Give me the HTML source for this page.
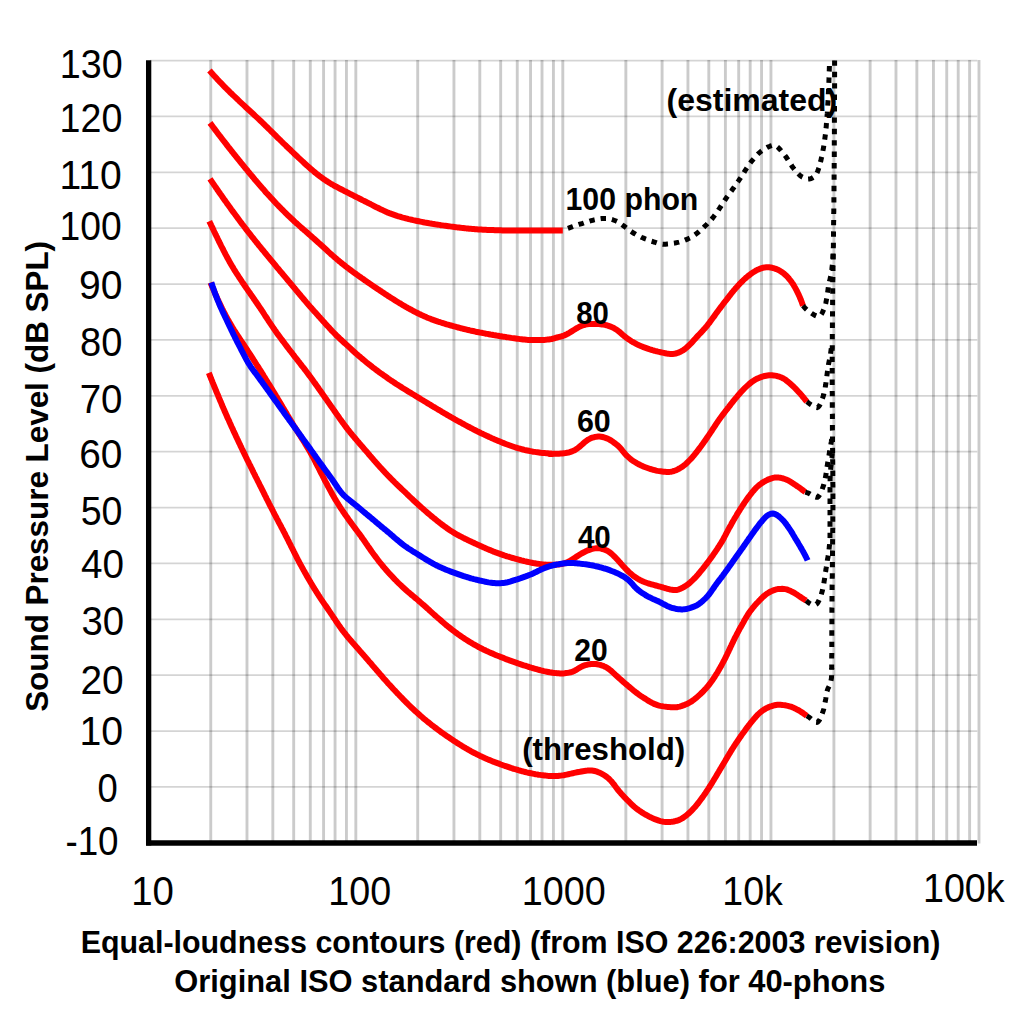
<!DOCTYPE html>
<html lang="en"><head><meta charset="utf-8"><title>Equal-loudness contours</title>
<style>html,body{margin:0;padding:0;background:#fff}svg{display:block}.t{font-family:"Liberation Sans","DejaVu Sans",sans-serif;fill:#000}.b{font-weight:bold}</style></head><body>
<svg width="1035" height="1035" viewBox="0 0 1035 1035">
<rect width="1035" height="1035" fill="#fff"/>
<g stroke="#000" fill="none">
<path stroke-opacity="0.205" stroke-width="2.9" d="M210.75,60.0V841M246.98,60.0V841M272.83,60.0V841M293.70,60.0V841M310.29,60.0V841M323.58,60.0V841M335.06,60.0V841M346.45,60.0V841M355.83,60.0V841M417.72,60.0V841M453.95,60.0V841M479.80,60.0V841M500.67,60.0V841M517.26,60.0V841M530.55,60.0V841M542.03,60.0V841M553.42,60.0V841M562.80,60.0V841M625.86,60.0V841M662.09,60.0V841M687.94,60.0V841M708.81,60.0V841M725.40,60.0V841M738.69,60.0V841M750.17,60.0V841M761.56,60.0V841M770.94,60.0V841M833.91,60.0V841M870.14,60.0V841M895.99,60.0V841M916.86,60.0V841M933.45,60.0V841M946.74,60.0V841M958.22,60.0V841M969.61,60.0V841M978.99,60.0V843.5"/>
<path stroke-opacity="0.17" stroke-width="1.8" d="M150,786.95H977.3M150,731.08H977.3M150,675.20H977.3M150,619.32H977.3M150,563.44H977.3M150,507.56H977.3M150,451.69H977.3M150,395.81H977.3M150,339.93H977.3M150,284.05H977.3M150,228.17H977.3M150,172.30H977.3M150,116.42H977.3M150,60.54H977.3"/>
</g>
<g fill="none" stroke="#ff0000" stroke-width="6.0" stroke-linejoin="round">
<path d="M209.4,70.5 L210.4,71.6 L211.4,72.7 L212.4,73.8 L213.4,75.0 L214.4,76.1 L215.5,77.2 L216.5,78.3 L217.5,79.4 L218.5,80.5 L219.5,81.6 L220.6,82.7 L221.6,83.7 L222.7,84.8 L223.7,85.9 L224.7,87.0 L225.8,88.0 L226.9,89.1 L227.9,90.1 L229.0,91.2 L230.1,92.3 L231.1,93.3 L232.2,94.3 L233.3,95.4 L234.4,96.4 L235.5,97.4 L236.6,98.5 L237.7,99.5 L238.7,100.5 L239.8,101.6 L240.9,102.6 L242.0,103.6 L243.1,104.6 L244.2,105.6 L245.3,106.7 L246.4,107.7 L247.5,108.7 L248.6,109.7 L249.7,110.7 L250.8,111.8 L251.9,112.8 L253.0,113.8 L254.1,114.8 L255.2,115.9 L256.3,116.9 L257.4,117.9 L258.5,118.9 L259.6,120.0 L260.7,121.0 L261.8,122.0 L262.9,123.1 L263.9,124.1 L265.0,125.2 L266.1,126.2 L267.1,127.3 L268.2,128.3 L269.3,129.4 L270.4,130.4 L271.4,131.5 L272.5,132.5 L273.6,133.6 L274.6,134.6 L275.7,135.7 L276.8,136.8 L277.8,137.8 L278.9,138.9 L280.0,139.9 L281.1,141.0 L282.1,142.0 L283.2,143.1 L284.3,144.1 L285.4,145.1 L286.4,146.2 L287.5,147.2 L288.6,148.3 L289.7,149.3 L290.8,150.3 L291.8,151.4 L292.9,152.4 L294.0,153.5 L295.1,154.5 L296.2,155.5 L297.3,156.5 L298.4,157.6 L299.5,158.6 L300.6,159.6 L301.7,160.6 L302.8,161.6 L303.9,162.7 L305.0,163.7 L306.1,164.7 L307.2,165.7 L308.4,166.7 L309.5,167.7 L310.6,168.7 L311.7,169.7 L312.9,170.6 L314.0,171.6 L315.2,172.6 L316.3,173.5 L317.5,174.5 L318.7,175.4 L319.9,176.3 L321.1,177.2 L322.3,178.1 L323.5,178.9 L324.7,179.8 L325.9,180.6 L327.2,181.4 L328.5,182.2 L329.7,183.0 L331.0,183.8 L332.3,184.5 L333.6,185.3 L334.9,186.0 L336.3,186.7 L337.6,187.4 L338.9,188.1 L340.2,188.8 L341.6,189.5 L342.9,190.2 L344.2,190.9 L345.6,191.5 L346.9,192.2 L348.3,192.9 L349.6,193.6 L350.9,194.3 L352.3,194.9 L353.6,195.6 L354.9,196.3 L356.3,197.0 L357.6,197.6 L359.0,198.3 L360.3,199.0 L361.6,199.7 L363.0,200.4 L364.3,201.0 L365.7,201.7 L367.0,202.4 L368.3,203.1 L369.7,203.7 L371.0,204.4 L372.4,205.1 L373.7,205.8 L375.0,206.5 L376.4,207.2 L377.7,207.8 L379.1,208.5 L380.4,209.2 L381.8,209.8 L383.1,210.4 L384.5,211.1 L385.9,211.7 L387.2,212.3 L388.6,212.8 L390.0,213.4 L391.4,213.9 L392.8,214.4 L394.2,214.9 L395.6,215.4 L397.0,215.9 L398.4,216.3 L399.9,216.7 L401.3,217.2 L402.8,217.6 L404.2,217.9 L405.7,218.3 L407.1,218.7 L408.6,219.1 L410.0,219.4 L411.5,219.7 L413.0,220.1 L414.4,220.4 L415.9,220.7 L417.4,221.0 L418.8,221.3 L420.3,221.6 L421.8,221.9 L423.3,222.2 L424.7,222.5 L426.2,222.7 L427.7,223.0 L429.2,223.3 L430.6,223.5 L432.1,223.8 L433.6,224.0 L435.1,224.3 L436.6,224.5 L438.1,224.7 L439.5,224.9 L441.0,225.2 L442.5,225.4 L444.0,225.6 L445.5,225.8 L447.0,226.0 L448.5,226.2 L449.9,226.4 L451.4,226.6 L452.9,226.8 L454.4,227.0 L455.9,227.2 L457.4,227.4 L458.9,227.5 L460.4,227.7 L461.9,227.9 L463.4,228.0 L464.8,228.2 L466.3,228.4 L467.8,228.5 L469.3,228.7 L470.8,228.8 L472.3,228.9 L473.8,229.0 L475.3,229.2 L476.8,229.3 L478.3,229.4 L479.8,229.5 L481.3,229.6 L482.8,229.7 L484.3,229.8 L485.8,229.8 L487.3,229.9 L488.8,230.0 L490.3,230.0 L491.8,230.1 L493.3,230.1 L494.8,230.2 L496.3,230.2 L497.8,230.3 L499.3,230.3 L500.8,230.3 L502.3,230.4 L503.8,230.4 L505.3,230.4 L506.8,230.4 L508.3,230.5 L509.8,230.5 L511.3,230.5 L512.8,230.5 L514.3,230.5 L515.8,230.5 L517.3,230.5 L518.8,230.5 L520.3,230.6 L521.8,230.6 L523.3,230.6 L524.8,230.6 L526.3,230.6 L527.8,230.6 L529.3,230.6 L530.8,230.6 L532.3,230.6 L533.8,230.6 L535.3,230.6 L536.8,230.6 L538.3,230.6 L539.8,230.6 L541.3,230.6 L542.8,230.6 L544.3,230.6 L545.8,230.5 L547.3,230.5 L548.8,230.5 L550.3,230.5 L551.8,230.5 L553.3,230.5 L554.8,230.5 L556.3,230.5 L557.8,230.5 L559.3,230.4 L560.8,230.4 L562.3,230.4 L562.8,230.4"/>
<path d="M210.0,122.9 L210.9,124.1 L211.8,125.3 L212.7,126.5 L213.6,127.7 L214.5,128.9 L215.4,130.1 L216.3,131.3 L217.2,132.5 L218.1,133.7 L219.0,134.9 L220.0,136.1 L220.9,137.3 L221.8,138.5 L222.7,139.7 L223.6,140.8 L224.5,142.0 L225.5,143.2 L226.4,144.4 L227.3,145.6 L228.2,146.8 L229.2,148.0 L230.1,149.1 L231.0,150.3 L231.9,151.5 L232.9,152.7 L233.8,153.8 L234.8,155.0 L235.7,156.2 L236.6,157.3 L237.6,158.5 L238.5,159.7 L239.5,160.9 L240.4,162.0 L241.3,163.2 L242.3,164.3 L243.2,165.5 L244.2,166.7 L245.1,167.8 L246.1,169.0 L247.1,170.1 L248.0,171.3 L249.0,172.5 L249.9,173.6 L250.9,174.8 L251.9,175.9 L252.8,177.1 L253.8,178.2 L254.7,179.4 L255.7,180.5 L256.7,181.7 L257.7,182.8 L258.6,183.9 L259.6,185.1 L260.6,186.2 L261.6,187.3 L262.6,188.5 L263.6,189.6 L264.6,190.7 L265.5,191.9 L266.5,193.0 L267.6,194.1 L268.6,195.2 L269.6,196.3 L270.6,197.4 L271.6,198.5 L272.6,199.6 L273.6,200.7 L274.7,201.8 L275.7,202.9 L276.7,204.0 L277.8,205.1 L278.8,206.2 L279.9,207.2 L280.9,208.3 L282.0,209.4 L283.0,210.4 L284.1,211.5 L285.2,212.6 L286.2,213.6 L287.3,214.7 L288.4,215.7 L289.5,216.7 L290.5,217.8 L291.6,218.8 L292.7,219.8 L293.8,220.8 L294.9,221.9 L296.0,222.9 L297.2,223.9 L298.3,224.9 L299.4,225.9 L300.5,226.9 L301.6,227.9 L302.8,228.9 L303.9,229.9 L305.0,230.8 L306.2,231.8 L307.3,232.8 L308.4,233.8 L309.5,234.8 L310.7,235.8 L311.8,236.8 L312.9,237.8 L314.1,238.8 L315.2,239.8 L316.3,240.8 L317.4,241.8 L318.5,242.8 L319.7,243.8 L320.8,244.8 L321.9,245.8 L323.0,246.8 L324.1,247.8 L325.2,248.8 L326.3,249.8 L327.4,250.8 L328.5,251.9 L329.6,252.9 L330.7,253.9 L331.9,254.9 L333.0,255.9 L334.1,256.9 L335.2,257.8 L336.4,258.8 L337.5,259.8 L338.7,260.7 L339.8,261.7 L341.0,262.6 L342.2,263.6 L343.3,264.5 L344.5,265.4 L345.7,266.4 L346.9,267.3 L348.1,268.2 L349.3,269.1 L350.5,270.0 L351.7,270.9 L352.9,271.8 L354.1,272.7 L355.3,273.5 L356.5,274.4 L357.8,275.3 L359.0,276.2 L360.2,277.0 L361.4,277.9 L362.7,278.8 L363.9,279.6 L365.1,280.5 L366.4,281.3 L367.6,282.2 L368.8,283.0 L370.1,283.9 L371.3,284.7 L372.6,285.6 L373.8,286.4 L375.0,287.3 L376.3,288.1 L377.5,288.9 L378.8,289.8 L380.0,290.6 L381.3,291.4 L382.5,292.3 L383.8,293.1 L385.0,293.9 L386.3,294.8 L387.5,295.6 L388.8,296.4 L390.1,297.2 L391.3,298.0 L392.6,298.8 L393.9,299.6 L395.1,300.4 L396.4,301.2 L397.7,302.0 L399.0,302.8 L400.3,303.5 L401.5,304.3 L402.8,305.1 L404.1,305.8 L405.4,306.6 L406.7,307.3 L408.0,308.1 L409.4,308.8 L410.7,309.5 L412.0,310.2 L413.3,311.0 L414.6,311.7 L416.0,312.3 L417.3,313.0 L418.6,313.7 L420.0,314.3 L421.4,315.0 L422.7,315.6 L424.1,316.2 L425.5,316.8 L426.8,317.4 L428.2,318.0 L429.6,318.5 L431.0,319.1 L432.4,319.6 L433.8,320.1 L435.2,320.6 L436.6,321.1 L438.1,321.6 L439.5,322.0 L440.9,322.5 L442.3,323.0 L443.8,323.4 L445.2,323.8 L446.7,324.3 L448.1,324.7 L449.5,325.1 L451.0,325.5 L452.4,325.9 L453.9,326.3 L455.3,326.7 L456.8,327.1 L458.2,327.5 L459.7,327.9 L461.1,328.3 L462.6,328.6 L464.0,329.0 L465.5,329.3 L467.0,329.7 L468.4,330.0 L469.9,330.4 L471.3,330.7 L472.8,331.0 L474.3,331.3 L475.7,331.7 L477.2,332.0 L478.7,332.3 L480.2,332.6 L481.6,332.8 L483.1,333.1 L484.6,333.4 L486.0,333.7 L487.5,333.9 L489.0,334.2 L490.5,334.5 L492.0,334.7 L493.4,335.0 L494.9,335.2 L496.4,335.5 L497.9,335.7 L499.4,336.0 L500.8,336.2 L502.3,336.5 L503.8,336.7 L505.3,336.9 L506.8,337.2 L508.3,337.4 L509.7,337.6 L511.2,337.9 L512.7,338.1 L514.2,338.3 L515.7,338.5 L517.2,338.7 L518.6,338.9 L520.1,339.1 L521.6,339.3 L523.1,339.5 L524.6,339.6 L526.1,339.7 L527.6,339.9 L529.1,340.0 L530.6,340.0 L532.1,340.1 L533.6,340.1 L535.1,340.1 L536.6,340.1 L538.1,340.1 L539.6,340.1 L541.1,340.0 L542.6,339.9 L544.1,339.9 L545.6,339.8 L547.1,339.6 L548.7,339.5 L550.1,339.3 L551.6,339.1 L552.9,338.7 L554.2,338.3 L555.6,337.9 L557.0,337.5 L558.4,337.1 L559.9,336.8 L561.4,336.4 L562.8,336.0 L564.2,335.5 L565.6,334.8 L566.9,334.2 L568.2,333.5 L569.5,332.7 L570.8,331.9 L572.1,331.1 L573.4,330.3 L574.7,329.5 L575.9,328.7 L577.2,328.0 L578.5,327.2 L579.9,326.6 L581.2,326.0 L582.6,325.5 L584.1,325.0 L585.5,324.6 L587.0,324.4 L588.5,324.1 L590.0,324.0 L591.5,323.9 L593.0,323.9 L594.5,323.9 L596.0,323.9 L597.5,324.0 L599.0,324.1 L600.5,324.3 L601.9,324.4 L603.4,324.6 L604.9,324.9 L606.4,325.2 L607.8,325.6 L609.2,326.1 L610.6,326.6 L612.0,327.2 L613.4,327.8 L614.7,328.6 L616.0,329.3 L617.2,330.2 L618.4,331.1 L619.6,332.0 L620.7,333.0 L621.8,334.0 L622.9,335.0 L624.1,336.0 L625.3,336.9 L626.5,337.8 L627.7,338.7 L628.9,339.5 L630.2,340.4 L631.4,341.2 L632.7,342.0 L634.0,342.7 L635.3,343.4 L636.6,344.1 L638.0,344.8 L639.4,345.4 L640.7,346.0 L642.1,346.6 L643.5,347.2 L644.9,347.7 L646.3,348.2 L647.7,348.7 L649.2,349.2 L650.6,349.6 L652.0,350.0 L653.5,350.5 L654.9,350.9 L656.4,351.2 L657.9,351.6 L659.3,351.9 L660.8,352.3 L662.3,352.6 L663.7,352.9 L665.2,353.2 L666.7,353.5 L668.2,353.7 L669.7,353.9 L671.1,354.0 L672.6,354.0 L674.1,353.8 L675.6,353.5 L677.0,353.1 L678.4,352.7 L679.8,352.1 L681.1,351.4 L682.4,350.7 L683.7,349.9 L684.9,349.0 L686.1,348.0 L687.2,347.0 L688.3,346.0 L689.4,345.0 L690.5,343.9 L691.5,342.9 L692.5,341.8 L693.5,340.6 L694.5,339.5 L695.5,338.4 L696.5,337.3 L697.6,336.1 L698.6,335.0 L699.6,334.0 L700.7,332.9 L701.7,331.8 L702.7,330.7 L703.7,329.6 L704.7,328.5 L705.7,327.3 L706.7,326.2 L707.6,325.0 L708.5,323.8 L709.5,322.7 L710.3,321.4 L711.2,320.2 L712.1,319.0 L713.0,317.8 L713.9,316.6 L714.8,315.4 L715.6,314.2 L716.5,312.9 L717.4,311.7 L718.3,310.5 L719.2,309.3 L720.1,308.1 L721.0,306.9 L721.9,305.7 L722.8,304.5 L723.7,303.3 L724.6,302.1 L725.6,300.9 L726.5,299.8 L727.4,298.6 L728.3,297.4 L729.2,296.2 L730.2,295.0 L731.1,293.8 L732.0,292.6 L733.0,291.5 L733.9,290.3 L734.9,289.2 L735.9,288.0 L736.9,286.9 L737.9,285.8 L738.9,284.7 L739.9,283.6 L741.0,282.5 L742.1,281.5 L743.1,280.4 L744.2,279.4 L745.3,278.4 L746.5,277.4 L747.6,276.4 L748.8,275.5 L750.0,274.6 L751.2,273.7 L752.4,272.8 L753.7,272.0 L755.0,271.2 L756.3,270.4 L757.6,269.8 L759.0,269.2 L760.4,268.6 L761.8,268.1 L763.2,267.7 L764.7,267.4 L766.2,267.3 L767.6,267.2 L769.1,267.3 L770.6,267.5 L772.1,267.8 L773.5,268.2 L775.0,268.6 L776.4,269.1 L777.8,269.7 L779.1,270.4 L780.4,271.1 L781.7,272.0 L782.9,272.8 L784.1,273.7 L785.2,274.7 L786.3,275.7 L787.4,276.8 L788.4,277.9 L789.3,279.1 L790.3,280.3 L791.2,281.5 L792.0,282.7 L792.9,283.9 L793.7,285.2 L794.4,286.5 L795.2,287.8 L795.9,289.1 L796.6,290.5 L797.3,291.8 L797.9,293.2 L798.6,294.5 L799.2,295.9 L799.8,297.3 L800.4,298.7 L800.9,300.0 L801.5,301.4 L802.0,302.9 L802.5,304.3 L803.0,305.7"/>
<path d="M210.0,178.9 L210.8,180.1 L211.7,181.4 L212.5,182.6 L213.4,183.9 L214.2,185.1 L215.1,186.4 L215.9,187.6 L216.8,188.8 L217.6,190.1 L218.5,191.3 L219.3,192.5 L220.2,193.8 L221.1,195.0 L221.9,196.2 L222.8,197.5 L223.6,198.7 L224.5,199.9 L225.4,201.1 L226.3,202.4 L227.1,203.6 L228.0,204.8 L228.9,206.0 L229.8,207.2 L230.6,208.4 L231.5,209.7 L232.4,210.9 L233.3,212.1 L234.2,213.3 L235.1,214.5 L236.0,215.7 L236.9,216.9 L237.7,218.1 L238.6,219.3 L239.5,220.5 L240.4,221.7 L241.3,222.9 L242.2,224.1 L243.2,225.3 L244.1,226.5 L245.0,227.7 L245.9,228.9 L246.8,230.1 L247.7,231.3 L248.6,232.4 L249.6,233.6 L250.5,234.8 L251.4,236.0 L252.3,237.2 L253.3,238.3 L254.2,239.5 L255.1,240.7 L256.1,241.9 L257.0,243.0 L258.0,244.2 L258.9,245.4 L259.9,246.5 L260.8,247.7 L261.7,248.8 L262.7,250.0 L263.7,251.2 L264.6,252.3 L265.6,253.5 L266.5,254.6 L267.5,255.8 L268.4,257.0 L269.4,258.1 L270.3,259.3 L271.3,260.4 L272.3,261.6 L273.2,262.7 L274.2,263.9 L275.1,265.0 L276.1,266.2 L277.0,267.4 L278.0,268.5 L279.0,269.7 L279.9,270.8 L280.9,272.0 L281.9,273.1 L282.8,274.3 L283.8,275.4 L284.8,276.6 L285.7,277.7 L286.7,278.9 L287.6,280.0 L288.6,281.2 L289.6,282.3 L290.5,283.5 L291.5,284.6 L292.5,285.8 L293.4,286.9 L294.4,288.1 L295.4,289.2 L296.3,290.4 L297.3,291.5 L298.2,292.7 L299.2,293.8 L300.2,295.0 L301.1,296.1 L302.1,297.3 L303.1,298.4 L304.0,299.6 L305.0,300.7 L306.0,301.9 L307.0,303.0 L307.9,304.1 L308.9,305.3 L309.9,306.4 L310.9,307.5 L311.9,308.6 L312.9,309.8 L313.9,310.9 L314.9,312.0 L315.9,313.1 L316.9,314.2 L317.9,315.3 L318.9,316.5 L319.9,317.6 L320.9,318.7 L321.9,319.8 L322.9,320.9 L323.9,322.0 L324.9,323.1 L325.9,324.3 L326.9,325.4 L328.0,326.5 L329.0,327.6 L330.0,328.7 L331.0,329.8 L332.0,330.9 L333.1,332.0 L334.1,333.0 L335.2,334.1 L336.2,335.2 L337.3,336.2 L338.4,337.2 L339.5,338.3 L340.5,339.3 L341.6,340.3 L342.7,341.3 L343.8,342.4 L345.0,343.4 L346.1,344.4 L347.2,345.4 L348.3,346.4 L349.4,347.4 L350.5,348.4 L351.6,349.5 L352.7,350.5 L353.8,351.5 L354.9,352.5 L356.0,353.5 L357.2,354.5 L358.3,355.5 L359.4,356.4 L360.6,357.4 L361.7,358.4 L362.9,359.4 L364.0,360.3 L365.2,361.3 L366.3,362.2 L367.5,363.2 L368.7,364.1 L369.9,365.0 L371.0,365.9 L372.2,366.9 L373.4,367.8 L374.6,368.7 L375.8,369.6 L377.0,370.5 L378.2,371.4 L379.4,372.3 L380.6,373.2 L381.9,374.0 L383.1,374.9 L384.3,375.8 L385.5,376.6 L386.8,377.5 L388.0,378.4 L389.2,379.2 L390.5,380.1 L391.7,380.9 L393.0,381.7 L394.2,382.6 L395.5,383.4 L396.7,384.2 L398.0,385.0 L399.2,385.8 L400.5,386.6 L401.8,387.4 L403.0,388.2 L404.3,389.0 L405.6,389.8 L406.9,390.6 L408.1,391.4 L409.4,392.2 L410.7,392.9 L412.0,393.7 L413.3,394.5 L414.6,395.3 L415.8,396.1 L417.1,396.8 L418.4,397.6 L419.7,398.4 L421.0,399.2 L422.3,400.0 L423.5,400.7 L424.8,401.5 L426.1,402.3 L427.4,403.1 L428.7,403.9 L430.0,404.6 L431.2,405.4 L432.5,406.2 L433.8,407.0 L435.1,407.7 L436.4,408.5 L437.7,409.3 L439.0,410.0 L440.3,410.8 L441.5,411.6 L442.8,412.3 L444.1,413.1 L445.4,413.8 L446.7,414.6 L448.0,415.4 L449.3,416.1 L450.6,416.9 L451.9,417.6 L453.2,418.3 L454.5,419.1 L455.8,419.8 L457.2,420.6 L458.5,421.3 L459.8,422.0 L461.1,422.7 L462.4,423.5 L463.7,424.2 L465.0,424.9 L466.4,425.6 L467.7,426.3 L469.0,427.0 L470.3,427.7 L471.7,428.4 L473.0,429.1 L474.3,429.8 L475.7,430.5 L477.0,431.2 L478.3,431.8 L479.7,432.5 L481.0,433.2 L482.4,433.8 L483.7,434.4 L485.1,435.1 L486.5,435.7 L487.8,436.3 L489.2,437.0 L490.6,437.6 L491.9,438.2 L493.3,438.8 L494.7,439.4 L496.1,440.0 L497.4,440.6 L498.8,441.1 L500.2,441.7 L501.6,442.3 L503.0,442.9 L504.4,443.4 L505.8,444.0 L507.2,444.5 L508.6,445.0 L510.0,445.5 L511.4,446.0 L512.8,446.5 L514.3,447.0 L515.7,447.5 L517.1,447.9 L518.5,448.3 L520.0,448.7 L521.4,449.1 L522.9,449.5 L524.3,449.9 L525.8,450.2 L527.3,450.5 L528.7,450.8 L530.2,451.1 L531.7,451.4 L533.2,451.7 L534.6,451.9 L536.1,452.1 L537.5,452.3 L539.0,452.5 L540.4,452.7 L541.7,452.9 L543.1,453.0 L544.6,453.1 L546.2,453.2 L547.8,453.3 L549.4,453.4 L550.6,453.4 L551.2,453.5 L551.2,453.6 L550.5,453.7 L549.8,453.8 L549.5,453.8 L549.5,453.9 L549.7,453.9 L550.1,453.9 L550.7,453.9 L551.5,453.9 L552.5,453.9 L553.9,453.8 L555.5,453.8 L557.2,453.8 L559.0,453.7 L560.7,453.6 L562.3,453.5 L563.9,453.3 L565.4,453.1 L566.9,452.8 L568.4,452.5 L569.8,452.1 L571.2,451.6 L572.6,451.1 L574.0,450.5 L575.3,449.8 L576.5,449.0 L577.8,448.1 L579.0,447.2 L580.1,446.2 L581.2,445.2 L582.4,444.2 L583.5,443.2 L584.6,442.2 L585.8,441.3 L587.0,440.4 L588.2,439.6 L589.6,438.9 L590.9,438.2 L592.3,437.7 L593.7,437.3 L595.2,436.9 L596.7,436.7 L598.1,436.6 L599.6,436.6 L601.1,436.7 L602.6,437.0 L604.0,437.4 L605.4,437.8 L606.8,438.3 L608.2,438.9 L609.5,439.6 L610.8,440.4 L612.1,441.2 L613.3,442.1 L614.5,443.0 L615.7,443.9 L616.9,444.8 L618.0,445.8 L619.1,446.8 L620.2,447.9 L621.2,449.0 L622.1,450.2 L623.0,451.4 L624.0,452.6 L624.9,453.7 L625.9,454.8 L627.0,455.9 L628.1,456.9 L629.2,457.9 L630.3,458.9 L631.5,459.8 L632.7,460.7 L634.0,461.5 L635.3,462.3 L636.5,463.1 L637.9,463.8 L639.2,464.5 L640.5,465.2 L641.9,465.8 L643.3,466.4 L644.7,467.0 L646.1,467.5 L647.5,468.0 L648.9,468.5 L650.3,469.0 L651.8,469.4 L653.2,469.8 L654.7,470.2 L656.2,470.6 L657.6,470.9 L659.1,471.1 L660.6,471.3 L662.1,471.5 L663.6,471.7 L665.1,471.8 L666.6,471.9 L668.1,472.0 L669.5,471.9 L671.0,471.7 L672.5,471.4 L673.9,471.0 L675.3,470.5 L676.7,469.9 L678.1,469.2 L679.4,468.5 L680.7,467.7 L681.9,467.0 L683.1,466.1 L684.3,465.2 L685.5,464.2 L686.6,463.2 L687.7,462.1 L688.8,461.0 L689.8,460.0 L690.9,458.9 L691.9,457.8 L692.9,456.6 L693.9,455.5 L694.8,454.3 L695.7,453.2 L696.7,452.0 L697.6,450.8 L698.5,449.6 L699.4,448.4 L700.3,447.2 L701.2,446.0 L702.1,444.7 L703.0,443.5 L703.8,442.3 L704.7,441.1 L705.6,439.9 L706.4,438.6 L707.3,437.4 L708.1,436.2 L709.0,434.9 L709.8,433.7 L710.7,432.4 L711.5,431.2 L712.3,429.9 L713.1,428.7 L714.0,427.4 L714.8,426.2 L715.6,424.9 L716.4,423.7 L717.3,422.4 L718.1,421.2 L719.0,419.9 L719.8,418.7 L720.7,417.5 L721.6,416.3 L722.5,415.1 L723.4,413.9 L724.3,412.7 L725.2,411.5 L726.1,410.3 L727.1,409.1 L728.0,407.9 L728.9,406.8 L729.8,405.6 L730.7,404.4 L731.7,403.2 L732.6,402.0 L733.5,400.9 L734.5,399.7 L735.4,398.5 L736.4,397.4 L737.4,396.2 L738.3,395.1 L739.3,394.0 L740.3,392.8 L741.3,391.7 L742.4,390.6 L743.4,389.5 L744.4,388.4 L745.5,387.4 L746.6,386.4 L747.7,385.4 L748.8,384.4 L750.0,383.4 L751.2,382.4 L752.4,381.5 L753.6,380.7 L754.9,379.9 L756.2,379.2 L757.5,378.5 L758.9,377.9 L760.3,377.3 L761.7,376.8 L763.1,376.4 L764.6,376.0 L766.1,375.7 L767.5,375.5 L769.0,375.3 L770.5,375.3 L772.0,375.3 L773.5,375.4 L775.0,375.6 L776.5,375.9 L777.9,376.3 L779.4,376.7 L780.7,377.2 L782.1,377.8 L783.4,378.5 L784.7,379.3 L785.9,380.1 L787.1,381.1 L788.3,382.0 L789.5,383.0 L790.6,384.0 L791.7,385.0 L792.8,386.0 L793.9,387.0 L795.0,388.1 L796.0,389.2 L797.1,390.3 L798.1,391.4 L799.1,392.5 L800.1,393.6 L801.1,394.7 L802.1,395.9 L803.0,397.0 L804.0,398.2 L804.9,399.3 L805.9,400.5 L806.8,401.7"/>
<path d="M209.3,221.2 L209.9,222.6 L210.6,223.9 L211.2,225.3 L211.9,226.6 L212.5,228.0 L213.2,229.3 L213.8,230.7 L214.4,232.0 L215.1,233.4 L215.7,234.7 L216.4,236.1 L217.1,237.4 L217.7,238.8 L218.4,240.1 L219.0,241.5 L219.7,242.8 L220.4,244.2 L221.0,245.5 L221.7,246.9 L222.4,248.2 L223.1,249.5 L223.7,250.9 L224.4,252.2 L225.1,253.5 L225.8,254.9 L226.5,256.2 L227.2,257.5 L227.9,258.8 L228.7,260.1 L229.4,261.5 L230.1,262.8 L230.9,264.1 L231.6,265.4 L232.4,266.6 L233.2,267.9 L233.9,269.2 L234.7,270.5 L235.5,271.7 L236.3,273.0 L237.1,274.3 L238.0,275.5 L238.8,276.8 L239.6,278.0 L240.4,279.3 L241.3,280.5 L242.1,281.8 L242.9,283.0 L243.8,284.3 L244.6,285.5 L245.5,286.8 L246.3,288.0 L247.2,289.2 L248.0,290.5 L248.9,291.7 L249.8,292.9 L250.6,294.2 L251.5,295.4 L252.3,296.6 L253.2,297.8 L254.0,299.1 L254.9,300.3 L255.7,301.5 L256.6,302.8 L257.4,304.0 L258.3,305.3 L259.1,306.5 L260.0,307.7 L260.8,309.0 L261.6,310.2 L262.5,311.5 L263.3,312.7 L264.1,314.0 L264.9,315.3 L265.7,316.5 L266.6,317.8 L267.4,319.0 L268.2,320.3 L269.0,321.5 L269.8,322.8 L270.7,324.0 L271.5,325.3 L272.4,326.5 L273.2,327.8 L274.1,329.0 L274.9,330.2 L275.8,331.4 L276.6,332.7 L277.5,333.9 L278.4,335.1 L279.3,336.3 L280.2,337.5 L281.1,338.7 L282.0,339.9 L282.9,341.1 L283.8,342.3 L284.7,343.5 L285.6,344.7 L286.5,345.9 L287.4,347.1 L288.3,348.3 L289.2,349.5 L290.1,350.7 L291.1,351.9 L292.0,353.0 L292.9,354.2 L293.8,355.4 L294.7,356.6 L295.7,357.8 L296.6,359.0 L297.5,360.1 L298.4,361.3 L299.4,362.5 L300.3,363.7 L301.2,364.9 L302.1,366.1 L303.0,367.2 L304.0,368.4 L304.9,369.6 L305.8,370.8 L306.7,372.0 L307.6,373.2 L308.5,374.4 L309.4,375.6 L310.3,376.8 L311.2,378.0 L312.1,379.2 L312.9,380.4 L313.8,381.7 L314.7,382.9 L315.6,384.1 L316.4,385.3 L317.3,386.5 L318.2,387.8 L319.0,389.0 L319.9,390.2 L320.8,391.4 L321.6,392.7 L322.5,393.9 L323.3,395.1 L324.2,396.4 L325.1,397.6 L325.9,398.8 L326.8,400.0 L327.6,401.3 L328.5,402.5 L329.4,403.7 L330.2,405.0 L331.1,406.2 L332.0,407.4 L332.8,408.6 L333.7,409.9 L334.5,411.1 L335.4,412.3 L336.3,413.6 L337.1,414.8 L338.0,416.0 L338.8,417.2 L339.7,418.5 L340.6,419.7 L341.5,420.9 L342.3,422.1 L343.2,423.3 L344.1,424.5 L345.0,425.7 L345.9,426.9 L346.8,428.1 L347.7,429.3 L348.7,430.5 L349.6,431.7 L350.5,432.8 L351.5,434.0 L352.4,435.1 L353.4,436.3 L354.4,437.4 L355.3,438.6 L356.3,439.7 L357.3,440.9 L358.3,442.0 L359.2,443.1 L360.2,444.3 L361.2,445.4 L362.2,446.6 L363.2,447.7 L364.1,448.8 L365.1,450.0 L366.1,451.1 L367.1,452.2 L368.1,453.4 L369.0,454.5 L370.0,455.7 L371.0,456.8 L372.0,457.9 L373.0,459.1 L373.9,460.2 L374.9,461.3 L375.9,462.4 L376.9,463.6 L377.9,464.7 L378.9,465.8 L379.9,466.9 L380.9,468.0 L381.9,469.1 L382.9,470.2 L384.0,471.3 L385.0,472.4 L386.0,473.5 L387.0,474.6 L388.1,475.7 L389.1,476.8 L390.2,477.8 L391.2,478.9 L392.3,480.0 L393.4,481.0 L394.4,482.1 L395.5,483.1 L396.6,484.2 L397.7,485.2 L398.7,486.3 L399.8,487.3 L400.9,488.3 L402.0,489.4 L403.1,490.4 L404.2,491.4 L405.3,492.4 L406.4,493.5 L407.4,494.5 L408.5,495.5 L409.6,496.6 L410.7,497.6 L411.8,498.6 L412.9,499.7 L414.0,500.7 L415.1,501.7 L416.2,502.7 L417.3,503.7 L418.4,504.8 L419.5,505.8 L420.6,506.8 L421.7,507.8 L422.9,508.8 L424.0,509.8 L425.1,510.7 L426.3,511.7 L427.4,512.7 L428.5,513.7 L429.7,514.6 L430.8,515.6 L432.0,516.6 L433.1,517.5 L434.3,518.5 L435.5,519.4 L436.6,520.4 L437.8,521.3 L439.0,522.2 L440.2,523.2 L441.4,524.1 L442.6,525.0 L443.8,525.9 L445.0,526.8 L446.2,527.6 L447.4,528.5 L448.6,529.4 L449.9,530.2 L451.1,531.0 L452.4,531.8 L453.7,532.6 L454.9,533.4 L456.2,534.1 L457.5,534.8 L458.8,535.5 L460.2,536.3 L461.5,536.9 L462.8,537.6 L464.2,538.3 L465.5,539.0 L466.9,539.6 L468.2,540.3 L469.6,540.9 L470.9,541.6 L472.3,542.2 L473.6,542.8 L475.0,543.5 L476.4,544.1 L477.7,544.7 L479.1,545.3 L480.5,545.9 L481.8,546.6 L483.2,547.2 L484.6,547.8 L486.0,548.4 L487.3,549.0 L488.7,549.6 L490.1,550.1 L491.5,550.7 L492.9,551.3 L494.3,551.8 L495.7,552.4 L497.1,552.9 L498.5,553.4 L499.9,553.9 L501.3,554.4 L502.7,554.9 L504.1,555.4 L505.6,555.8 L507.0,556.3 L508.4,556.7 L509.9,557.2 L511.3,557.6 L512.7,558.0 L514.2,558.4 L515.6,558.8 L517.1,559.2 L518.5,559.6 L520.0,560.0 L521.4,560.4 L522.9,560.7 L524.3,561.1 L525.8,561.4 L527.2,561.8 L528.7,562.1 L530.2,562.4 L531.6,562.7 L533.1,563.0 L534.6,563.2 L536.1,563.5 L537.5,563.7 L539.0,563.9 L540.5,564.1 L542.0,564.3 L543.5,564.4 L545.0,564.6 L546.5,564.7 L547.9,564.7 L549.4,564.8 L550.9,564.8 L552.4,564.7 L553.9,564.7 L555.4,564.7 L556.9,564.6 L558.4,564.5 L559.9,564.3 L561.4,564.0 L562.8,563.7 L564.3,563.3 L565.7,562.8 L567.1,562.2 L568.4,561.6 L569.8,560.9 L571.1,560.2 L572.4,559.4 L573.6,558.6 L574.9,557.8 L576.1,556.9 L577.4,556.1 L578.7,555.3 L579.9,554.5 L581.2,553.7 L582.5,553.0 L583.9,552.3 L585.2,551.6 L586.5,550.9 L587.9,550.3 L589.3,549.8 L590.7,549.3 L592.2,548.9 L593.6,548.6 L595.1,548.4 L596.6,548.2 L598.1,548.2 L599.6,548.4 L601.1,548.6 L602.5,549.0 L604.0,549.4 L605.3,549.9 L606.7,550.5 L608.0,551.2 L609.2,552.0 L610.4,552.9 L611.6,553.9 L612.7,554.9 L613.8,556.0 L614.9,557.0 L615.9,558.1 L617.0,559.2 L618.0,560.3 L619.0,561.4 L620.0,562.5 L621.0,563.7 L622.0,564.8 L623.0,565.9 L624.0,567.0 L625.0,568.1 L626.1,569.2 L627.1,570.3 L628.2,571.3 L629.3,572.4 L630.4,573.4 L631.5,574.3 L632.7,575.3 L633.9,576.2 L635.1,577.0 L636.4,577.9 L637.7,578.7 L639.0,579.5 L640.3,580.2 L641.6,580.8 L643.0,581.4 L644.3,582.0 L645.7,582.5 L647.1,583.0 L648.5,583.5 L650.0,583.9 L651.4,584.3 L652.9,584.7 L654.4,585.1 L655.8,585.5 L657.3,585.9 L658.7,586.3 L660.2,586.7 L661.7,587.1 L663.1,587.5 L664.6,588.0 L666.1,588.4 L667.5,588.8 L669.0,589.2 L670.4,589.6 L671.9,589.8 L673.4,590.0 L674.8,590.1 L676.2,590.0 L677.7,589.7 L679.1,589.3 L680.5,588.7 L681.9,588.1 L683.2,587.4 L684.5,586.6 L685.8,585.8 L687.0,585.0 L688.2,584.1 L689.4,583.1 L690.5,582.2 L691.6,581.1 L692.7,580.1 L693.8,579.0 L694.9,578.0 L695.9,576.9 L696.9,575.8 L697.9,574.7 L698.9,573.5 L699.8,572.4 L700.8,571.2 L701.7,570.0 L702.7,568.9 L703.6,567.7 L704.6,566.5 L705.5,565.3 L706.4,564.1 L707.3,562.9 L708.2,561.7 L709.1,560.5 L710.0,559.3 L710.9,558.1 L711.7,556.9 L712.6,555.7 L713.5,554.4 L714.3,553.2 L715.2,552.0 L716.0,550.7 L716.9,549.5 L717.7,548.2 L718.5,547.0 L719.3,545.7 L720.1,544.5 L720.9,543.2 L721.7,541.9 L722.5,540.6 L723.2,539.3 L723.9,538.0 L724.6,536.7 L725.3,535.4 L726.0,534.0 L726.7,532.7 L727.4,531.4 L728.1,530.0 L728.8,528.7 L729.5,527.4 L730.3,526.1 L731.0,524.8 L731.7,523.4 L732.5,522.1 L733.2,520.8 L734.0,519.5 L734.7,518.3 L735.5,517.0 L736.3,515.7 L737.0,514.4 L737.8,513.1 L738.6,511.8 L739.4,510.6 L740.2,509.3 L741.0,508.0 L741.8,506.8 L742.6,505.5 L743.5,504.2 L744.3,503.0 L745.1,501.7 L746.0,500.5 L746.8,499.3 L747.7,498.1 L748.6,496.9 L749.5,495.7 L750.4,494.5 L751.4,493.3 L752.3,492.1 L753.3,491.0 L754.3,489.8 L755.3,488.7 L756.3,487.6 L757.4,486.6 L758.5,485.6 L759.7,484.7 L760.9,483.8 L762.1,482.9 L763.4,482.1 L764.7,481.3 L766.0,480.6 L767.3,480.0 L768.7,479.3 L770.1,478.8 L771.5,478.3 L773.0,477.9 L774.4,477.6 L775.9,477.5 L777.4,477.5 L778.9,477.6 L780.3,477.8 L781.8,478.1 L783.3,478.5 L784.7,479.0 L786.1,479.5 L787.4,480.1 L788.8,480.7 L790.1,481.5 L791.3,482.3 L792.6,483.1 L793.9,484.0 L795.1,484.8 L796.4,485.6 L797.6,486.5 L798.9,487.3 L800.1,488.2 L801.3,489.1 L802.5,490.0 L803.7,490.9 L804.9,491.8 L805.3,492.1"/>
<path d="M210.5,282.6 L211.1,284.0 L211.7,285.4 L212.2,286.8 L212.8,288.1 L213.4,289.5 L214.0,290.9 L214.6,292.3 L215.2,293.7 L215.8,295.0 L216.4,296.4 L217.0,297.8 L217.6,299.1 L218.3,300.5 L218.9,301.9 L219.5,303.2 L220.2,304.6 L220.8,305.9 L221.5,307.3 L222.1,308.6 L222.8,310.0 L223.5,311.3 L224.2,312.6 L224.9,314.0 L225.6,315.3 L226.3,316.6 L227.0,317.9 L227.7,319.2 L228.5,320.5 L229.2,321.8 L229.9,323.1 L230.7,324.4 L231.5,325.7 L232.2,327.0 L233.0,328.3 L233.8,329.6 L234.6,330.8 L235.4,332.1 L236.2,333.4 L237.0,334.6 L237.9,335.9 L238.7,337.1 L239.5,338.4 L240.3,339.6 L241.2,340.9 L242.0,342.1 L242.8,343.4 L243.7,344.6 L244.5,345.9 L245.3,347.1 L246.2,348.4 L247.0,349.6 L247.8,350.9 L248.6,352.1 L249.5,353.4 L250.3,354.7 L251.1,355.9 L251.9,357.2 L252.7,358.4 L253.5,359.7 L254.3,361.0 L255.1,362.2 L255.9,363.5 L256.7,364.8 L257.5,366.0 L258.4,367.3 L259.2,368.6 L260.0,369.8 L260.8,371.1 L261.6,372.4 L262.4,373.7 L263.2,374.9 L263.9,376.2 L264.7,377.5 L265.5,378.7 L266.3,380.0 L267.1,381.3 L267.9,382.6 L268.7,383.8 L269.5,385.1 L270.3,386.4 L271.1,387.7 L271.8,389.0 L272.6,390.2 L273.4,391.5 L274.2,392.8 L275.0,394.1 L275.7,395.4 L276.5,396.7 L277.3,397.9 L278.0,399.2 L278.8,400.5 L279.6,401.8 L280.3,403.1 L281.1,404.4 L281.9,405.7 L282.6,407.0 L283.4,408.3 L284.2,409.6 L284.9,410.9 L285.7,412.1 L286.5,413.4 L287.2,414.7 L288.0,416.0 L288.8,417.3 L289.5,418.6 L290.3,419.9 L291.1,421.2 L291.9,422.4 L292.6,423.7 L293.4,425.0 L294.2,426.3 L295.0,427.5 L295.8,428.8 L296.6,430.1 L297.4,431.4 L298.2,432.6 L299.0,433.9 L299.8,435.2 L300.6,436.4 L301.4,437.7 L302.2,439.0 L303.0,440.2 L303.8,441.5 L304.6,442.8 L305.4,444.1 L306.2,445.4 L306.9,446.6 L307.7,447.9 L308.5,449.2 L309.2,450.5 L310.0,451.8 L310.7,453.1 L311.4,454.4 L312.1,455.7 L312.9,457.1 L313.6,458.4 L314.3,459.7 L315.0,461.0 L315.7,462.4 L316.3,463.7 L317.0,465.0 L317.7,466.4 L318.4,467.7 L319.1,469.0 L319.8,470.4 L320.4,471.7 L321.1,473.1 L321.8,474.4 L322.5,475.7 L323.2,477.1 L323.9,478.4 L324.5,479.7 L325.2,481.1 L325.9,482.4 L326.6,483.7 L327.3,485.0 L328.0,486.4 L328.7,487.7 L329.5,489.0 L330.2,490.3 L330.9,491.6 L331.6,493.0 L332.3,494.3 L333.1,495.6 L333.8,496.9 L334.6,498.2 L335.3,499.5 L336.1,500.7 L336.9,502.0 L337.7,503.3 L338.5,504.6 L339.3,505.8 L340.1,507.1 L340.9,508.3 L341.8,509.6 L342.6,510.8 L343.4,512.1 L344.3,513.3 L345.1,514.5 L346.0,515.8 L346.9,517.0 L347.7,518.2 L348.6,519.5 L349.5,520.7 L350.4,521.9 L351.2,523.1 L352.1,524.3 L353.0,525.5 L353.9,526.7 L354.8,527.9 L355.7,529.1 L356.6,530.3 L357.5,531.5 L358.4,532.7 L359.3,533.9 L360.2,535.1 L361.1,536.3 L361.9,537.6 L362.8,538.8 L363.7,540.0 L364.5,541.2 L365.4,542.5 L366.2,543.7 L367.1,544.9 L367.9,546.2 L368.8,547.4 L369.7,548.6 L370.5,549.9 L371.4,551.1 L372.2,552.3 L373.1,553.5 L374.0,554.7 L374.9,555.9 L375.8,557.1 L376.7,558.3 L377.6,559.5 L378.5,560.7 L379.4,561.9 L380.4,563.1 L381.3,564.2 L382.3,565.4 L383.2,566.6 L384.2,567.7 L385.2,568.8 L386.2,570.0 L387.1,571.1 L388.1,572.2 L389.1,573.3 L390.2,574.4 L391.2,575.5 L392.2,576.6 L393.2,577.7 L394.3,578.8 L395.3,579.9 L396.4,580.9 L397.4,582.0 L398.5,583.1 L399.6,584.1 L400.7,585.1 L401.8,586.2 L402.9,587.2 L404.0,588.2 L405.1,589.2 L406.2,590.2 L407.3,591.2 L408.5,592.2 L409.6,593.1 L410.7,594.1 L411.9,595.1 L413.0,596.0 L414.2,597.0 L415.3,598.0 L416.5,598.9 L417.6,599.9 L418.7,600.9 L419.9,601.9 L421.0,602.9 L422.1,603.9 L423.3,604.8 L424.4,605.8 L425.5,606.8 L426.6,607.8 L427.7,608.8 L428.9,609.8 L430.0,610.9 L431.1,611.9 L432.2,612.9 L433.3,613.9 L434.4,614.9 L435.6,615.9 L436.7,616.9 L437.8,617.9 L438.9,618.8 L440.1,619.8 L441.2,620.8 L442.3,621.8 L443.5,622.8 L444.6,623.7 L445.8,624.7 L446.9,625.7 L448.1,626.6 L449.3,627.5 L450.4,628.5 L451.6,629.4 L452.8,630.3 L454.0,631.2 L455.2,632.1 L456.4,633.0 L457.6,633.9 L458.8,634.8 L460.1,635.6 L461.3,636.5 L462.5,637.3 L463.8,638.1 L465.0,639.0 L466.3,639.8 L467.6,640.6 L468.8,641.4 L470.1,642.2 L471.4,642.9 L472.7,643.7 L474.0,644.5 L475.3,645.2 L476.6,645.9 L477.9,646.6 L479.2,647.4 L480.5,648.0 L481.9,648.7 L483.2,649.4 L484.6,650.0 L485.9,650.7 L487.3,651.3 L488.6,651.9 L490.0,652.6 L491.4,653.2 L492.8,653.7 L494.1,654.3 L495.5,654.9 L496.9,655.5 L498.3,656.0 L499.7,656.6 L501.1,657.2 L502.5,657.7 L503.9,658.2 L505.3,658.8 L506.7,659.3 L508.1,659.8 L509.5,660.4 L510.9,660.9 L512.3,661.4 L513.8,661.9 L515.2,662.4 L516.6,662.9 L518.0,663.4 L519.4,663.8 L520.8,664.3 L522.3,664.8 L523.7,665.3 L525.1,665.7 L526.6,666.2 L528.0,666.6 L529.4,667.1 L530.8,667.5 L532.3,668.0 L533.7,668.4 L535.2,668.8 L536.6,669.2 L538.0,669.6 L539.5,670.0 L540.9,670.4 L542.4,670.7 L543.8,671.1 L545.3,671.4 L546.8,671.7 L548.2,672.0 L549.7,672.3 L551.2,672.5 L552.7,672.8 L554.2,672.9 L555.7,673.1 L557.1,673.2 L558.6,673.3 L560.1,673.4 L561.6,673.4 L563.1,673.4 L564.6,673.3 L566.2,673.1 L567.6,672.9 L569.1,672.6 L570.6,672.3 L572.0,671.9 L573.4,671.3 L574.7,670.7 L576.0,670.0 L577.3,669.2 L578.5,668.3 L579.8,667.6 L581.1,666.9 L582.5,666.2 L583.9,665.7 L585.3,665.2 L586.8,664.8 L588.2,664.4 L589.7,664.2 L591.2,664.0 L592.7,663.9 L594.2,663.9 L595.7,664.0 L597.2,664.3 L598.7,664.6 L600.1,664.9 L601.6,665.4 L603.0,665.8 L604.3,666.4 L605.7,667.0 L606.9,667.7 L608.1,668.5 L609.3,669.4 L610.5,670.3 L611.6,671.3 L612.8,672.4 L613.9,673.4 L615.0,674.5 L616.2,675.5 L617.3,676.5 L618.4,677.5 L619.5,678.5 L620.7,679.5 L621.8,680.5 L622.9,681.5 L624.0,682.5 L625.2,683.5 L626.3,684.4 L627.5,685.4 L628.6,686.4 L629.8,687.4 L630.9,688.3 L632.1,689.3 L633.2,690.2 L634.4,691.2 L635.6,692.1 L636.8,693.0 L638.0,693.9 L639.2,694.8 L640.4,695.7 L641.7,696.5 L642.9,697.3 L644.2,698.1 L645.5,698.9 L646.8,699.8 L648.1,700.6 L649.4,701.4 L650.7,702.1 L652.1,702.9 L653.4,703.5 L654.8,704.2 L656.2,704.7 L657.6,705.2 L659.0,705.6 L660.4,705.9 L661.8,706.1 L663.3,706.4 L664.8,706.6 L666.3,706.8 L667.8,706.9 L669.3,707.1 L670.8,707.2 L672.3,707.3 L673.8,707.3 L675.3,707.3 L676.8,707.2 L678.2,706.9 L679.7,706.6 L681.2,706.2 L682.6,705.7 L684.0,705.2 L685.4,704.6 L686.8,704.0 L688.1,703.3 L689.4,702.6 L690.7,701.9 L692.0,701.1 L693.2,700.2 L694.4,699.3 L695.6,698.3 L696.8,697.4 L697.9,696.4 L699.0,695.4 L700.1,694.4 L701.2,693.3 L702.3,692.3 L703.4,691.2 L704.4,690.1 L705.4,689.0 L706.4,687.9 L707.4,686.7 L708.4,685.6 L709.3,684.4 L710.2,683.2 L711.1,682.0 L712.0,680.8 L712.8,679.6 L713.7,678.3 L714.5,677.1 L715.3,675.8 L716.1,674.5 L716.9,673.3 L717.7,672.0 L718.4,670.7 L719.2,669.4 L719.9,668.1 L720.7,666.8 L721.4,665.5 L722.1,664.1 L722.8,662.8 L723.5,661.5 L724.2,660.2 L724.9,658.8 L725.6,657.5 L726.2,656.1 L726.9,654.8 L727.5,653.4 L728.2,652.1 L728.8,650.7 L729.5,649.4 L730.1,648.0 L730.7,646.6 L731.4,645.3 L732.0,643.9 L732.7,642.6 L733.3,641.2 L734.0,639.9 L734.6,638.5 L735.3,637.2 L736.0,635.9 L736.7,634.5 L737.4,633.2 L738.1,631.9 L738.8,630.5 L739.5,629.2 L740.2,627.9 L741.0,626.6 L741.7,625.3 L742.4,624.0 L743.2,622.7 L743.9,621.3 L744.6,620.0 L745.4,618.7 L746.2,617.4 L746.9,616.2 L747.7,614.9 L748.5,613.6 L749.4,612.4 L750.2,611.2 L751.1,610.0 L752.1,608.8 L753.0,607.6 L754.0,606.5 L754.9,605.3 L755.9,604.2 L756.9,603.1 L758.0,602.0 L759.0,600.9 L760.1,599.8 L761.1,598.7 L762.2,597.7 L763.3,596.6 L764.5,595.6 L765.6,594.7 L766.8,593.8 L768.1,593.0 L769.3,592.2 L770.7,591.5 L772.0,590.9 L773.4,590.3 L774.8,589.8 L776.3,589.4 L777.7,589.1 L779.2,589.0 L780.7,588.9 L782.2,588.8 L783.7,588.9 L785.1,589.1 L786.6,589.4 L788.0,589.9 L789.4,590.5 L790.8,591.1 L792.1,591.8 L793.5,592.5 L794.8,593.2 L796.0,594.0 L797.3,594.8 L798.5,595.7 L799.8,596.5 L801.0,597.4 L802.3,598.2 L803.5,599.0 L804.8,599.8 L806.1,600.6"/>
<path d="M208.8,372.9 L209.4,374.3 L209.9,375.7 L210.5,377.1 L211.0,378.5 L211.6,379.9 L212.2,381.3 L212.7,382.6 L213.3,384.0 L213.8,385.4 L214.4,386.8 L215.0,388.2 L215.6,389.6 L216.1,391.0 L216.7,392.4 L217.3,393.8 L217.9,395.1 L218.4,396.5 L219.0,397.9 L219.6,399.3 L220.2,400.7 L220.8,402.1 L221.4,403.4 L221.9,404.8 L222.5,406.2 L223.1,407.6 L223.7,408.9 L224.3,410.3 L224.9,411.7 L225.5,413.1 L226.1,414.4 L226.7,415.8 L227.3,417.2 L227.9,418.6 L228.6,419.9 L229.2,421.3 L229.8,422.7 L230.4,424.0 L231.0,425.4 L231.6,426.8 L232.3,428.1 L232.9,429.5 L233.5,430.9 L234.1,432.2 L234.8,433.6 L235.4,434.9 L236.0,436.3 L236.7,437.7 L237.3,439.0 L238.0,440.4 L238.6,441.7 L239.2,443.1 L239.9,444.4 L240.5,445.8 L241.2,447.2 L241.8,448.5 L242.5,449.9 L243.1,451.2 L243.8,452.6 L244.4,453.9 L245.1,455.3 L245.7,456.6 L246.4,458.0 L247.0,459.3 L247.7,460.7 L248.4,462.0 L249.0,463.3 L249.7,464.7 L250.4,466.0 L251.0,467.4 L251.7,468.7 L252.4,470.1 L253.0,471.4 L253.7,472.8 L254.4,474.1 L255.0,475.4 L255.7,476.8 L256.4,478.1 L257.1,479.5 L257.7,480.8 L258.4,482.1 L259.1,483.5 L259.7,484.8 L260.4,486.2 L261.1,487.5 L261.8,488.9 L262.4,490.2 L263.1,491.5 L263.8,492.9 L264.4,494.2 L265.1,495.6 L265.8,496.9 L266.4,498.3 L267.1,499.6 L267.8,500.9 L268.5,502.3 L269.1,503.6 L269.8,505.0 L270.5,506.3 L271.2,507.6 L271.9,509.0 L272.6,510.3 L273.2,511.6 L273.9,513.0 L274.6,514.3 L275.3,515.6 L276.0,516.9 L276.7,518.3 L277.4,519.6 L278.1,520.9 L278.8,522.3 L279.5,523.6 L280.2,524.9 L280.9,526.2 L281.6,527.6 L282.3,528.9 L283.0,530.2 L283.7,531.6 L284.4,532.9 L285.1,534.2 L285.7,535.6 L286.4,536.9 L287.1,538.2 L287.8,539.6 L288.5,540.9 L289.1,542.3 L289.8,543.6 L290.5,544.9 L291.1,546.3 L291.8,547.6 L292.5,549.0 L293.2,550.3 L293.8,551.6 L294.5,553.0 L295.2,554.3 L295.9,555.7 L296.5,557.0 L297.2,558.3 L297.9,559.7 L298.6,561.0 L299.3,562.3 L300.0,563.6 L300.7,565.0 L301.5,566.3 L302.2,567.6 L302.9,568.9 L303.6,570.2 L304.4,571.5 L305.1,572.8 L305.8,574.1 L306.6,575.5 L307.3,576.8 L308.1,578.1 L308.8,579.4 L309.6,580.6 L310.3,581.9 L311.1,583.2 L311.9,584.5 L312.6,585.8 L313.4,587.1 L314.2,588.4 L315.0,589.7 L315.8,590.9 L316.6,592.2 L317.4,593.5 L318.2,594.7 L319.0,596.0 L319.8,597.2 L320.6,598.5 L321.5,599.7 L322.3,601.0 L323.2,602.2 L324.0,603.5 L324.9,604.7 L325.7,605.9 L326.6,607.1 L327.4,608.4 L328.3,609.6 L329.1,610.8 L330.0,612.1 L330.8,613.3 L331.7,614.6 L332.5,615.8 L333.3,617.1 L334.1,618.3 L335.0,619.5 L335.8,620.8 L336.6,622.0 L337.5,623.3 L338.3,624.5 L339.2,625.7 L340.1,627.0 L340.9,628.2 L341.8,629.4 L342.7,630.6 L343.6,631.8 L344.5,633.0 L345.5,634.1 L346.4,635.3 L347.4,636.5 L348.3,637.6 L349.3,638.8 L350.3,639.9 L351.2,641.0 L352.2,642.2 L353.2,643.3 L354.2,644.4 L355.2,645.6 L356.2,646.7 L357.2,647.8 L358.2,648.9 L359.2,650.1 L360.1,651.2 L361.1,652.3 L362.1,653.4 L363.1,654.6 L364.1,655.7 L365.1,656.8 L366.1,658.0 L367.0,659.1 L368.0,660.2 L369.0,661.4 L370.0,662.5 L371.0,663.6 L371.9,664.8 L372.9,665.9 L373.9,667.1 L374.9,668.2 L375.9,669.3 L376.8,670.5 L377.8,671.6 L378.8,672.7 L379.8,673.9 L380.8,675.0 L381.8,676.1 L382.7,677.3 L383.7,678.4 L384.7,679.5 L385.7,680.6 L386.7,681.7 L387.7,682.9 L388.7,684.0 L389.8,685.1 L390.8,686.2 L391.8,687.3 L392.8,688.4 L393.8,689.5 L394.9,690.6 L395.9,691.7 L396.9,692.8 L397.9,693.9 L399.0,694.9 L400.0,696.0 L401.1,697.1 L402.1,698.2 L403.2,699.3 L404.2,700.3 L405.3,701.4 L406.3,702.5 L407.4,703.5 L408.4,704.6 L409.5,705.6 L410.6,706.7 L411.7,707.7 L412.8,708.7 L413.8,709.8 L414.9,710.8 L416.0,711.8 L417.2,712.8 L418.3,713.8 L419.4,714.8 L420.5,715.8 L421.7,716.8 L422.8,717.7 L423.9,718.7 L425.1,719.7 L426.3,720.6 L427.4,721.6 L428.6,722.5 L429.8,723.4 L430.9,724.4 L432.1,725.3 L433.3,726.2 L434.5,727.1 L435.7,728.0 L436.9,728.9 L438.1,729.8 L439.3,730.7 L440.5,731.6 L441.7,732.5 L443.0,733.4 L444.2,734.2 L445.4,735.1 L446.6,735.9 L447.9,736.8 L449.1,737.6 L450.4,738.5 L451.6,739.3 L452.9,740.1 L454.1,741.0 L455.4,741.8 L456.6,742.6 L457.9,743.4 L459.2,744.2 L460.5,745.0 L461.7,745.8 L463.0,746.6 L464.3,747.3 L465.6,748.1 L466.9,748.8 L468.2,749.6 L469.5,750.3 L470.8,751.1 L472.1,751.8 L473.4,752.5 L474.8,753.2 L476.1,753.9 L477.4,754.6 L478.8,755.2 L480.1,755.9 L481.5,756.5 L482.8,757.1 L484.2,757.8 L485.6,758.4 L486.9,759.0 L488.3,759.6 L489.7,760.1 L491.1,760.7 L492.5,761.3 L493.9,761.8 L495.3,762.4 L496.7,762.9 L498.1,763.4 L499.5,763.9 L500.9,764.5 L502.3,765.0 L503.7,765.5 L505.1,766.0 L506.6,766.4 L508.0,766.9 L509.4,767.4 L510.8,767.9 L512.3,768.3 L513.7,768.8 L515.1,769.2 L516.6,769.6 L518.0,770.0 L519.4,770.5 L520.9,770.9 L522.3,771.3 L523.8,771.6 L525.2,772.0 L526.7,772.4 L528.2,772.7 L529.6,773.0 L531.1,773.3 L532.5,773.6 L534.0,773.9 L535.5,774.2 L537.0,774.4 L538.4,774.7 L539.9,774.9 L541.4,775.1 L542.9,775.3 L544.4,775.5 L545.9,775.6 L547.4,775.8 L548.8,775.9 L550.3,776.0 L551.8,776.1 L553.3,776.1 L554.8,776.1 L556.3,776.0 L557.8,776.0 L559.3,775.8 L560.8,775.6 L562.3,775.4 L563.8,775.2 L565.2,774.9 L566.7,774.6 L568.2,774.3 L569.6,773.9 L571.1,773.6 L572.6,773.3 L574.0,772.9 L575.5,772.6 L577.0,772.3 L578.5,772.0 L580.0,771.8 L581.4,771.5 L582.9,771.2 L584.4,771.0 L585.9,770.8 L587.4,770.6 L588.9,770.5 L590.3,770.5 L591.8,770.5 L593.3,770.7 L594.7,771.0 L596.2,771.4 L597.6,771.9 L599.0,772.5 L600.4,773.1 L601.7,773.7 L603.0,774.5 L604.3,775.3 L605.6,776.1 L606.8,777.0 L608.0,778.0 L609.1,778.9 L610.1,780.0 L611.1,781.0 L612.1,782.2 L613.0,783.3 L614.0,784.5 L614.9,785.8 L615.8,787.0 L616.7,788.2 L617.6,789.4 L618.5,790.6 L619.5,791.7 L620.5,792.8 L621.5,794.0 L622.5,795.1 L623.5,796.2 L624.6,797.3 L625.6,798.3 L626.6,799.4 L627.7,800.5 L628.8,801.5 L629.8,802.6 L630.9,803.7 L632.0,804.7 L633.1,805.7 L634.2,806.7 L635.4,807.7 L636.5,808.6 L637.7,809.5 L638.9,810.4 L640.2,811.3 L641.4,812.1 L642.7,812.9 L644.0,813.7 L645.3,814.5 L646.6,815.2 L647.9,815.9 L649.2,816.6 L650.6,817.3 L651.9,817.9 L653.3,818.6 L654.7,819.2 L656.1,819.7 L657.5,820.2 L658.9,820.7 L660.4,821.1 L661.8,821.4 L663.3,821.7 L664.8,821.9 L666.3,822.0 L667.8,822.1 L669.3,822.0 L670.8,821.9 L672.3,821.7 L673.7,821.5 L675.2,821.1 L676.6,820.8 L678.0,820.3 L679.4,819.8 L680.8,819.1 L682.1,818.4 L683.4,817.6 L684.6,816.7 L685.8,815.8 L687.0,814.9 L688.1,813.9 L689.3,812.9 L690.3,811.9 L691.4,810.8 L692.5,809.7 L693.5,808.6 L694.5,807.5 L695.5,806.4 L696.4,805.2 L697.4,804.1 L698.3,802.9 L699.2,801.7 L700.1,800.5 L701.0,799.3 L701.9,798.1 L702.8,796.9 L703.7,795.6 L704.5,794.4 L705.4,793.2 L706.2,791.9 L707.0,790.7 L707.9,789.4 L708.7,788.2 L709.5,786.9 L710.3,785.6 L711.1,784.4 L711.9,783.1 L712.7,781.8 L713.5,780.5 L714.2,779.3 L715.0,778.0 L715.8,776.7 L716.6,775.4 L717.3,774.1 L718.1,772.8 L718.9,771.5 L719.6,770.2 L720.4,768.9 L721.1,767.7 L721.9,766.4 L722.7,765.1 L723.4,763.8 L724.2,762.5 L725.0,761.2 L725.7,759.9 L726.5,758.6 L727.3,757.3 L728.0,756.0 L728.8,754.7 L729.6,753.4 L730.3,752.2 L731.1,750.9 L731.9,749.6 L732.7,748.3 L733.5,747.1 L734.3,745.8 L735.1,744.6 L736.0,743.3 L736.8,742.1 L737.7,740.8 L738.5,739.6 L739.4,738.3 L740.2,737.1 L741.1,735.9 L741.9,734.7 L742.8,733.4 L743.7,732.2 L744.6,731.0 L745.4,729.8 L746.3,728.6 L747.2,727.4 L748.1,726.2 L749.1,725.0 L750.0,723.8 L750.9,722.6 L751.9,721.5 L752.8,720.3 L753.8,719.1 L754.8,718.0 L755.8,716.8 L756.8,715.7 L757.8,714.6 L758.9,713.6 L760.0,712.6 L761.2,711.7 L762.3,710.8 L763.6,709.9 L764.9,709.1 L766.2,708.3 L767.5,707.7 L768.9,707.0 L770.2,706.5 L771.7,706.1 L773.1,705.6 L774.6,705.3 L776.0,705.0 L777.5,704.8 L779.0,704.8 L780.5,704.8 L782.0,704.9 L783.5,705.1 L785.0,705.3 L786.5,705.6 L787.9,705.9 L789.4,706.3 L790.8,706.7 L792.2,707.2 L793.6,707.8 L795.0,708.4 L796.3,709.1 L797.6,709.8 L799.0,710.5 L800.2,711.3 L801.5,712.1 L802.8,712.9 L804.0,713.8 L805.2,714.7 L806.4,715.6 L806.8,715.9"/>
</g>
<path fill="none" stroke="#0000ff" stroke-width="6.0" stroke-linejoin="round" d="M211.3,282.4 L211.8,283.8 L212.2,285.3 L212.7,286.7 L213.2,288.1 L213.7,289.5 L214.2,290.9 L214.7,292.4 L215.2,293.8 L215.7,295.2 L216.3,296.6 L216.8,298.0 L217.4,299.4 L217.9,300.8 L218.5,302.1 L219.1,303.5 L219.6,304.9 L220.2,306.3 L220.8,307.6 L221.5,309.0 L222.1,310.4 L222.7,311.7 L223.3,313.1 L224.0,314.5 L224.6,315.8 L225.3,317.2 L225.9,318.5 L226.6,319.9 L227.2,321.3 L227.8,322.6 L228.5,324.0 L229.1,325.3 L229.8,326.7 L230.4,328.0 L231.1,329.4 L231.7,330.7 L232.4,332.1 L233.0,333.4 L233.7,334.8 L234.4,336.1 L235.0,337.5 L235.7,338.8 L236.4,340.2 L237.0,341.5 L237.7,342.8 L238.4,344.2 L239.1,345.5 L239.8,346.9 L240.5,348.2 L241.1,349.5 L241.8,350.9 L242.5,352.2 L243.2,353.5 L243.9,354.9 L244.6,356.2 L245.3,357.5 L246.0,358.9 L246.7,360.2 L247.5,361.5 L248.2,362.8 L249.0,364.0 L249.8,365.3 L250.6,366.6 L251.4,367.8 L252.3,369.0 L253.2,370.2 L254.1,371.4 L255.0,372.6 L255.9,373.8 L256.8,375.0 L257.7,376.2 L258.6,377.4 L259.5,378.7 L260.4,379.9 L261.3,381.1 L262.2,382.3 L263.0,383.5 L263.9,384.7 L264.8,385.9 L265.7,387.2 L266.6,388.4 L267.4,389.6 L268.3,390.8 L269.2,392.0 L270.1,393.3 L270.9,394.5 L271.8,395.7 L272.7,396.9 L273.6,398.1 L274.4,399.4 L275.3,400.6 L276.2,401.8 L277.1,403.0 L277.9,404.2 L278.8,405.5 L279.7,406.7 L280.6,407.9 L281.4,409.1 L282.3,410.3 L283.2,411.5 L284.1,412.8 L284.9,414.0 L285.8,415.2 L286.7,416.4 L287.6,417.6 L288.5,418.8 L289.3,420.1 L290.2,421.3 L291.1,422.5 L292.0,423.7 L292.9,424.9 L293.7,426.1 L294.6,427.4 L295.5,428.6 L296.4,429.8 L297.3,431.0 L298.1,432.2 L299.0,433.4 L299.9,434.6 L300.8,435.9 L301.7,437.1 L302.5,438.3 L303.4,439.5 L304.3,440.7 L305.2,441.9 L306.1,443.2 L306.9,444.4 L307.8,445.6 L308.7,446.8 L309.6,448.0 L310.4,449.2 L311.3,450.5 L312.2,451.7 L313.0,452.9 L313.9,454.1 L314.8,455.4 L315.7,456.6 L316.5,457.8 L317.4,459.0 L318.3,460.2 L319.1,461.5 L320.0,462.7 L320.9,463.9 L321.8,465.1 L322.7,466.3 L323.5,467.6 L324.4,468.8 L325.3,470.0 L326.2,471.2 L327.1,472.4 L327.9,473.6 L328.8,474.8 L329.7,476.1 L330.6,477.3 L331.5,478.5 L332.3,479.7 L333.2,481.0 L334.0,482.2 L334.9,483.5 L335.7,484.7 L336.6,486.0 L337.4,487.2 L338.3,488.5 L339.2,489.7 L340.0,490.9 L341.0,492.1 L341.9,493.2 L342.9,494.3 L343.9,495.4 L345.0,496.4 L346.1,497.4 L347.2,498.4 L348.4,499.3 L349.6,500.3 L350.7,501.2 L351.9,502.1 L353.1,503.1 L354.3,504.0 L355.5,505.0 L356.6,505.9 L357.8,506.9 L358.9,507.8 L360.1,508.8 L361.3,509.8 L362.4,510.7 L363.6,511.7 L364.7,512.6 L365.9,513.6 L367.0,514.6 L368.2,515.5 L369.3,516.5 L370.5,517.4 L371.6,518.4 L372.8,519.4 L373.9,520.3 L375.1,521.3 L376.2,522.3 L377.4,523.2 L378.5,524.2 L379.7,525.1 L380.8,526.1 L382.0,527.1 L383.1,528.0 L384.3,529.0 L385.5,529.9 L386.6,530.9 L387.8,531.9 L388.9,532.8 L390.1,533.8 L391.2,534.8 L392.4,535.7 L393.5,536.7 L394.6,537.7 L395.8,538.7 L396.9,539.6 L398.1,540.6 L399.2,541.6 L400.4,542.5 L401.5,543.5 L402.7,544.4 L403.9,545.3 L405.1,546.2 L406.4,547.0 L407.6,547.9 L408.8,548.7 L410.1,549.5 L411.4,550.3 L412.6,551.2 L413.9,552.0 L415.2,552.7 L416.5,553.5 L417.7,554.3 L419.0,555.1 L420.3,555.9 L421.6,556.7 L422.8,557.5 L424.1,558.3 L425.4,559.1 L426.7,559.9 L428.0,560.7 L429.3,561.4 L430.6,562.2 L431.9,562.9 L433.2,563.7 L434.5,564.4 L435.8,565.0 L437.2,565.7 L438.5,566.4 L439.9,567.0 L441.2,567.6 L442.6,568.2 L444.0,568.8 L445.4,569.4 L446.8,570.0 L448.2,570.5 L449.6,571.1 L451.0,571.6 L452.4,572.1 L453.8,572.6 L455.2,573.1 L456.6,573.6 L458.0,574.1 L459.4,574.6 L460.9,575.1 L462.3,575.6 L463.7,576.1 L465.2,576.5 L466.6,577.0 L468.0,577.4 L469.5,577.8 L470.9,578.3 L472.4,578.7 L473.8,579.1 L475.3,579.4 L476.7,579.8 L478.2,580.1 L479.6,580.5 L481.1,580.8 L482.6,581.1 L484.0,581.4 L485.5,581.8 L487.0,582.1 L488.5,582.4 L490.0,582.6 L491.4,582.8 L492.9,583.0 L494.4,583.1 L495.9,583.2 L497.4,583.2 L498.9,583.2 L500.4,583.2 L501.9,583.1 L503.4,583.0 L504.9,582.8 L506.3,582.5 L507.8,582.2 L509.2,581.8 L510.7,581.4 L512.2,580.9 L513.6,580.4 L515.1,580.0 L516.5,579.5 L517.9,579.1 L519.4,578.6 L520.8,578.2 L522.2,577.7 L523.6,577.2 L525.0,576.7 L526.4,576.1 L527.8,575.6 L529.2,575.0 L530.6,574.5 L532.0,573.9 L533.4,573.3 L534.7,572.6 L536.1,572.0 L537.4,571.3 L538.8,570.6 L540.1,570.0 L541.5,569.3 L542.9,568.7 L544.2,568.1 L545.6,567.6 L547.0,567.1 L548.5,566.6 L549.9,566.2 L551.3,565.8 L552.8,565.4 L554.3,565.0 L555.7,564.7 L557.2,564.4 L558.7,564.2 L560.2,563.9 L561.6,563.7 L563.1,563.5 L564.6,563.3 L566.1,563.2 L567.6,563.1 L569.1,563.0 L570.6,563.0 L572.1,563.1 L573.6,563.1 L575.1,563.2 L576.6,563.3 L578.1,563.5 L579.6,563.6 L581.1,563.8 L582.6,563.9 L584.1,564.1 L585.6,564.3 L587.1,564.5 L588.5,564.7 L590.0,565.0 L591.5,565.2 L593.0,565.5 L594.5,565.9 L595.9,566.2 L597.4,566.5 L598.8,566.9 L600.3,567.3 L601.7,567.6 L603.2,568.1 L604.6,568.5 L606.1,568.9 L607.5,569.4 L608.9,569.9 L610.3,570.4 L611.7,571.0 L613.1,571.5 L614.5,572.1 L615.9,572.7 L617.3,573.3 L618.6,573.9 L620.0,574.6 L621.3,575.3 L622.6,576.0 L623.9,576.8 L625.1,577.6 L626.4,578.5 L627.6,579.4 L628.7,580.3 L629.8,581.3 L630.9,582.4 L631.9,583.5 L632.9,584.7 L633.8,585.8 L634.8,586.9 L635.9,588.0 L637.0,589.0 L638.1,590.0 L639.3,590.9 L640.5,591.8 L641.7,592.7 L643.0,593.5 L644.3,594.3 L645.5,595.1 L646.8,595.9 L648.1,596.6 L649.5,597.3 L650.8,597.9 L652.2,598.6 L653.5,599.2 L654.9,599.8 L656.3,600.4 L657.7,601.0 L659.0,601.7 L660.4,602.3 L661.7,603.0 L663.1,603.8 L664.4,604.5 L665.7,605.2 L667.0,605.9 L668.4,606.5 L669.8,607.1 L671.2,607.6 L672.6,608.0 L674.1,608.3 L675.5,608.7 L677.0,609.0 L678.5,609.2 L680.0,609.3 L681.5,609.4 L683.0,609.4 L684.5,609.2 L686.0,609.0 L687.5,608.7 L689.0,608.3 L690.4,607.9 L691.8,607.4 L693.2,606.9 L694.6,606.4 L695.9,605.8 L697.2,605.1 L698.5,604.3 L699.7,603.4 L700.9,602.5 L702.1,601.5 L703.3,600.4 L704.4,599.4 L705.5,598.4 L706.5,597.3 L707.5,596.2 L708.5,595.1 L709.4,593.9 L710.3,592.7 L711.2,591.5 L712.0,590.2 L712.9,589.0 L713.8,587.7 L714.6,586.5 L715.5,585.3 L716.4,584.0 L717.3,582.8 L718.2,581.6 L719.1,580.4 L720.0,579.2 L720.9,578.1 L721.8,576.9 L722.7,575.7 L723.6,574.4 L724.5,573.2 L725.4,572.0 L726.3,570.8 L727.1,569.6 L728.0,568.4 L728.9,567.1 L729.7,565.9 L730.6,564.7 L731.5,563.5 L732.3,562.2 L733.2,561.0 L734.1,559.8 L734.9,558.6 L735.8,557.3 L736.7,556.1 L737.5,554.9 L738.4,553.7 L739.3,552.4 L740.2,551.2 L741.0,550.0 L741.9,548.8 L742.8,547.6 L743.6,546.3 L744.5,545.1 L745.3,543.9 L746.2,542.6 L747.0,541.4 L747.9,540.2 L748.7,538.9 L749.6,537.7 L750.5,536.5 L751.3,535.2 L752.2,534.0 L753.1,532.8 L753.9,531.6 L754.8,530.3 L755.7,529.1 L756.6,527.9 L757.5,526.7 L758.4,525.5 L759.3,524.3 L760.2,523.1 L761.2,522.0 L762.2,520.8 L763.1,519.7 L764.2,518.5 L765.2,517.4 L766.3,516.4 L767.4,515.5 L768.7,514.7 L770.0,514.1 L771.4,513.7 L772.8,513.5 L774.2,513.7 L775.6,514.3 L776.9,515.0 L778.2,515.9 L779.4,516.9 L780.5,517.9 L781.6,518.9 L782.7,520.0 L783.7,521.1 L784.7,522.2 L785.6,523.4 L786.5,524.6 L787.4,525.9 L788.3,527.1 L789.1,528.3 L790.0,529.6 L790.8,530.8 L791.6,532.1 L792.4,533.4 L793.1,534.7 L793.9,536.0 L794.7,537.3 L795.4,538.6 L796.2,539.8 L797.0,541.1 L797.8,542.4 L798.5,543.7 L799.3,545.0 L800.1,546.3 L800.8,547.6 L801.6,548.9 L802.3,550.2 L803.1,551.5 L803.8,552.8 L804.5,554.1 L805.2,555.5 L805.9,556.8 L806.5,558.1 L807.2,559.5 L807.6,560.4"/>
<g fill="none" stroke="#000" stroke-width="5.0" stroke-dasharray="5.4 6.0">
<path stroke-dashoffset="5.93" d="M562.8,230.4 L564.2,229.8 L565.6,229.3 L567.0,228.7 L568.4,228.2 L569.8,227.6 L571.2,227.1 L572.6,226.6 L574.0,226.1 L575.4,225.6 L576.8,225.1 L578.3,224.7 L579.7,224.2 L581.1,223.8 L582.6,223.4 L584.0,222.9 L585.5,222.5 L586.9,222.1 L588.3,221.6 L589.8,221.1 L591.2,220.7 L592.6,220.3 L594.1,219.9 L595.5,219.6 L597.0,219.3 L598.5,219.0 L600.0,218.8 L601.5,218.6 L603.0,218.5 L604.5,218.4 L606.0,218.4 L607.4,218.5 L608.9,218.7 L610.4,219.1 L611.9,219.5 L613.3,220.0 L614.7,220.5 L616.1,221.0 L617.4,221.6 L618.7,222.4 L620.0,223.2 L621.2,224.1 L622.4,225.0 L623.7,225.9 L624.9,226.8 L626.1,227.7 L627.3,228.6 L628.5,229.5 L629.7,230.4 L630.9,231.3 L632.1,232.1 L633.4,233.0 L634.7,233.7 L636.0,234.5 L637.3,235.2 L638.6,235.9 L640.0,236.5 L641.3,237.2 L642.7,237.8 L644.1,238.4 L645.5,239.0 L646.9,239.5 L648.3,240.1 L649.7,240.6 L651.1,241.1 L652.5,241.5 L653.9,242.0 L655.4,242.4 L656.8,242.9 L658.3,243.3 L659.8,243.7 L661.2,244.0 L662.7,244.2 L664.2,244.2 L665.7,244.2 L667.2,244.1 L668.7,244.0 L670.2,243.8 L671.7,243.6 L673.1,243.3 L674.6,243.1 L676.1,242.8 L677.6,242.4 L679.0,242.1 L680.5,241.7 L682.0,241.2 L683.4,240.7 L684.8,240.2 L686.2,239.6 L687.5,239.1 L688.8,238.4 L690.1,237.8 L691.4,237.0 L692.6,236.2 L693.9,235.4 L695.1,234.6 L696.3,233.7 L697.6,232.7 L698.8,231.8 L699.9,230.8 L701.1,229.8 L702.3,228.7 L703.4,227.7 L704.5,226.6 L705.6,225.5 L706.7,224.5 L707.7,223.4 L708.8,222.3 L709.8,221.2 L710.8,220.2 L711.8,219.1 L712.7,217.9 L713.6,216.8 L714.5,215.6 L715.4,214.4 L716.3,213.2 L717.2,212.0 L718.0,210.7 L718.8,209.4 L719.7,208.2 L720.5,206.9 L721.3,205.6 L722.1,204.3 L723.0,203.1 L723.8,201.8 L724.6,200.5 L725.5,199.3 L726.3,198.0 L727.2,196.8 L728.1,195.6 L728.9,194.4 L729.8,193.1 L730.7,191.9 L731.6,190.7 L732.4,189.5 L733.3,188.3 L734.2,187.0 L735.0,185.8 L735.9,184.6 L736.8,183.4 L737.6,182.1 L738.5,180.9 L739.3,179.7 L740.2,178.4 L741.0,177.2 L741.8,175.9 L742.6,174.6 L743.4,173.4 L744.2,172.1 L745.0,170.8 L745.8,169.5 L746.6,168.3 L747.5,167.0 L748.3,165.8 L749.2,164.5 L750.0,163.3 L750.9,162.1 L751.9,161.0 L752.8,159.8 L753.8,158.6 L754.8,157.5 L755.8,156.3 L756.8,155.2 L757.9,154.1 L759.0,153.0 L760.1,152.1 L761.2,151.2 L762.4,150.3 L763.7,149.5 L765.0,148.7 L766.4,147.9 L767.8,147.1 L769.3,146.5 L770.7,145.9 L772.1,145.5 L773.4,145.4 L774.7,145.4 L775.9,145.8 L777.1,146.6 L778.2,147.5 L779.3,148.7 L780.4,149.9 L781.5,151.2 L782.6,152.5 L783.5,153.7 L784.5,154.9 L785.4,156.1 L786.3,157.3 L787.1,158.5 L788.0,159.8 L788.8,161.1 L789.6,162.4 L790.4,163.7 L791.2,165.0 L792.0,166.2 L792.9,167.4 L793.7,168.6 L794.7,169.8 L795.7,170.9 L796.7,172.1 L797.7,173.2 L798.8,174.3 L799.9,175.3 L801.1,176.3 L802.3,177.1 L803.6,177.7 L805.0,178.3 L806.4,178.8 L807.9,179.1 L809.3,179.0 L810.8,178.7 L812.2,178.0 L813.5,177.2 L814.6,176.3 L815.5,175.3 L816.3,174.2 L816.9,173.0 L817.5,171.7 L818.1,170.2 L818.6,168.7 L819.1,167.2 L819.6,165.6 L820.0,164.1 L820.4,162.5 L820.8,161.0 L821.1,159.5 L821.4,158.1 L821.8,156.6 L822.1,155.2 L822.4,153.7 L822.7,152.3 L822.9,150.8 L823.2,149.3 L823.5,147.8 L823.7,146.3 L824.0,144.8 L824.2,143.4 L824.4,141.9 L824.6,140.4 L824.8,138.9 L825.0,137.4 L825.2,135.9 L825.4,134.4 L825.6,132.9 L825.7,131.4 L825.9,129.9 L826.0,128.4 L826.2,126.9 L826.3,125.4 L826.4,123.9 L826.6,122.4 L826.7,121.0 L826.8,119.5 L826.9,118.0 L827.0,116.5 L827.1,115.0 L827.3,113.5 L827.4,112.0 L827.5,110.5 L827.5,109.0 L827.6,107.5 L827.7,106.0 L827.8,104.5 L827.9,103.0 L828.0,101.5 L828.1,100.0 L828.1,98.5 L828.2,97.0 L828.3,95.5 L828.3,94.0 L828.4,92.5 L828.5,91.0 L828.5,89.5 L828.6,88.0 L828.7,86.5 L828.7,85.0 L828.8,83.5 L828.9,82.0 L828.9,80.5 L829.0,79.0 L829.0,77.5 L829.1,76.0 L829.1,74.5 L829.2,73.0 L829.2,71.5 L829.3,70.0 L829.3,68.5 L829.4,67.0 L829.4,65.5 L829.4,64.0 L829.5,62.5 L829.5,61.0 L829.5,60.5"/>
<path d="M803.0,305.7 L804.0,306.9 L805.0,308.0 L806.1,309.1 L807.2,310.1 L808.3,311.1 L809.5,311.9 L810.8,312.8 L812.2,313.7 L813.7,314.6 L815.1,315.4 L816.5,316.0 L817.7,316.4 L818.8,316.4 L819.9,315.9 L820.8,315.0 L821.8,313.6 L822.6,312.0 L823.3,310.4 L824.0,308.8 L824.5,307.4 L825.0,306.0 L825.4,304.6 L825.8,303.1 L826.1,301.6 L826.4,300.1 L826.7,298.6 L827.0,297.1 L827.2,295.7 L827.4,294.2 L827.6,292.7 L827.8,291.2 L828.0,289.7 L828.2,288.2 L828.4,286.7 L828.7,285.2 L828.9,283.7 L829.3,282.3 L829.6,280.8 L830.0,279.4 L830.3,277.9 L830.7,276.4 L831.0,274.9 L831.2,273.5 L831.4,272.0 L831.6,270.5 L831.9,269.0 L832.0,267.5 L832.2,266.0 L832.4,264.5 L832.5,263.0 L832.6,261.5 L832.7,260.0 L832.8,258.5 L832.9,257.0 L833.0,255.5 L833.1,254.0 L833.1,252.5 L833.2,251.0 L833.2,250.0"/>
<path d="M806.8,401.7 L808.0,402.6 L809.2,403.5 L810.5,404.4 L811.8,405.2 L813.2,406.0 L814.6,406.8 L816.0,407.4 L817.1,407.6 L818.1,407.2 L819.0,406.3 L819.8,405.0 L820.6,403.4 L821.3,401.7 L821.9,400.0 L822.5,398.5 L822.9,397.1 L823.4,395.7 L823.8,394.2 L824.1,392.8 L824.5,391.3 L824.8,389.8 L825.1,388.3 L825.3,386.8 L825.6,385.3 L825.8,383.9 L826.0,382.4 L826.2,380.9 L826.4,379.4 L826.6,377.9 L826.8,376.4 L827.0,374.9 L827.2,373.4 L827.4,371.9 L827.6,370.4 L827.9,368.9 L828.1,367.5 L828.3,366.0 L828.5,364.5 L828.8,363.0 L829.1,361.5 L829.4,360.0 L829.7,358.6 L830.0,357.1 L830.2,355.6 L830.5,354.1 L830.7,352.6 L830.9,351.2 L831.1,349.7 L831.3,348.2 L831.5,346.7 L831.7,345.2 L831.9,343.7 L832.0,342.7"/>
<path d="M805.3,492.1 L806.7,492.5 L808.2,493.1 L809.6,493.8 L811.1,494.7 L812.5,495.6 L813.9,496.4 L815.2,497.0 L816.3,497.3 L817.4,497.2 L818.3,496.6 L819.2,495.5 L820.1,494.1 L820.9,492.5 L821.6,490.8 L822.2,489.2 L822.7,487.7 L823.2,486.3 L823.7,484.9 L824.1,483.5 L824.4,482.0 L824.8,480.5 L825.1,479.0 L825.4,477.5 L825.7,476.1 L825.9,474.6 L826.2,473.1 L826.4,471.6 L826.6,470.1 L826.8,468.6 L827.0,467.1 L827.3,465.6 L827.5,464.2 L827.7,462.7 L828.0,461.2 L828.2,459.7 L828.5,458.2 L828.7,456.7 L829.0,455.3 L829.2,453.8 L829.5,452.3 L829.7,450.8 L830.0,449.3 L830.2,447.9 L830.5,446.4 L830.8,444.9 L831.0,443.4 L831.3,441.9 L831.5,440.4 L831.7,439.0 L832.0,437.5 L832.2,436.0 L832.4,435.0"/>
<path d="M806.1,600.6 L807.7,602.0 L809.2,603.1 L810.6,603.9 L811.9,604.4 L813.2,604.7 L814.3,604.9 L815.4,604.8 L816.4,604.2 L817.4,603.1 L818.3,601.7 L819.1,600.1 L819.8,598.4 L820.4,596.9 L821.0,595.5 L821.4,594.1 L821.8,592.6 L822.2,591.2 L822.6,589.7 L822.9,588.2 L823.2,586.7 L823.5,585.2 L823.8,583.7 L824.0,582.3 L824.2,580.8 L824.5,579.3 L824.7,577.8 L824.9,576.3 L825.1,574.8 L825.3,573.3 L825.6,571.9 L825.8,570.4 L826.0,568.9 L826.3,567.4 L826.5,565.9 L826.7,564.4 L827.0,562.9 L827.2,561.5 L827.4,560.0 L827.7,558.5 L828.0,557.0 L828.2,555.5 L828.5,554.0 L828.7,552.6 L828.9,551.1 L829.0,549.6 L829.2,548.1 L829.3,546.6 L829.5,545.1 L829.6,543.6 L829.7,542.1 L829.8,540.6 L829.9,539.1 L830.0,537.6 L830.0,536.1 L830.0,534.6 L830.0,533.1 L830.0,531.6 L830.0,530.1 L830.0,528.6 L830.0,527.1 L830.0,525.6 L830.0,524.1 L830.0,522.6 L830.0,521.1 L830.0,519.5 L830.0,518.0 L830.0,516.5 L830.0,515.0 L830.0,513.5 L830.0,512.0 L830.0,510.5 L830.0,509.0 L830.0,507.5 L830.0,506.0 L830.0,504.5 L830.0,503.0 L830.0,501.5 L830.0,500.0 L830.0,498.5 L830.0,497.0 L830.0,495.5 L830.0,494.0 L830.0,492.5 L830.0,491.0 L830.0,489.5 L830.0,488.0 L830.1,486.5 L830.1,485.0 L830.1,483.4 L830.1,481.9 L830.1,480.4 L830.1,478.9 L830.2,477.4 L830.2,475.9 L830.2,474.4 L830.3,472.9 L830.4,471.4 L830.6,470.0 L830.7,468.5 L830.9,467.0 L831.1,465.5 L831.3,464.0 L831.5,462.5 L831.6,461.0 L831.7,459.5 L831.9,458.0 L832.0,456.5 L832.2,455.0 L832.3,453.5 L832.4,452.0 L832.6,450.5 L832.6,450.0"/>
<path d="M806.8,715.9 L808.1,716.6 L809.5,717.5 L810.8,718.6 L812.1,719.7 L813.4,720.8 L814.6,721.7 L815.8,722.3 L816.8,722.4 L817.7,722.1 L818.6,721.2 L819.5,720.0 L820.3,718.5 L821.1,716.8 L821.7,715.1 L822.3,713.5 L822.8,712.0 L823.3,710.6 L823.7,709.1 L824.0,707.7 L824.3,706.2 L824.6,704.7 L824.9,703.2 L825.2,701.7 L825.5,700.2 L825.8,698.7 L826.0,697.2 L826.2,695.7 L826.4,694.2 L826.7,692.8 L827.0,691.3 L827.5,689.9 L828.0,688.5 L828.7,687.1 L829.4,685.8 L830.0,684.4 L830.5,683.0 L830.8,681.5 L831.1,680.0 L831.4,678.5 L831.5,677.0 L831.6,675.5 L831.6,674.0 L831.7,672.5 L831.7,671.0 L831.7,669.5 L831.7,668.0"/>
<path d="M834.6,60.4 L834.6,61.9 L834.6,63.4 L834.6,64.9 L834.6,66.4 L834.6,67.9 L834.6,69.4 L834.6,70.9 L834.6,72.4 L834.6,73.9 L834.6,75.4 L834.6,76.9 L834.6,78.4 L834.6,79.9 L834.6,81.4 L834.6,82.9 L834.6,84.4 L834.6,85.9 L834.6,87.4 L834.6,88.9 L834.6,90.4 L834.5,91.9 L834.5,93.4 L834.5,94.9 L834.5,96.4 L834.5,97.9 L834.5,99.4 L834.5,100.9 L834.5,102.4 L834.5,103.9 L834.5,105.4 L834.5,106.9 L834.5,108.4 L834.5,109.9 L834.5,111.4 L834.5,112.9 L834.5,114.4 L834.5,115.9 L834.5,117.4 L834.4,118.9 L834.4,120.4 L834.4,121.9 L834.4,123.4 L834.4,124.9 L834.4,126.4 L834.4,127.9 L834.4,129.4 L834.4,130.9 L834.4,132.4 L834.4,133.9 L834.4,135.4 L834.4,136.9 L834.4,138.4 L834.3,139.9 L834.3,141.4 L834.3,142.9 L834.3,144.4 L834.3,145.9 L834.3,147.4 L834.3,148.9 L834.3,150.4 L834.3,151.9 L834.3,153.4 L834.3,154.9 L834.3,156.4 L834.3,157.9 L834.2,159.4 L834.2,160.9 L834.2,162.4 L834.2,163.9 L834.2,165.4 L834.2,166.9 L834.2,168.4 L834.2,169.9 L834.2,171.4 L834.1,172.9 L834.1,174.4 L834.1,175.9 L834.1,177.4 L834.1,178.9 L834.1,180.4 L834.1,181.9 L834.1,183.4 L834.0,184.9 L834.0,186.4 L834.0,187.9 L834.0,189.4 L834.0,190.9 L834.0,192.4 L834.0,193.9 L833.9,195.4 L833.9,196.9 L833.9,198.4 L833.9,199.9 L833.9,201.4 L833.9,202.9 L833.8,204.4 L833.8,205.9 L833.8,207.4 L833.8,208.9 L833.8,210.4 L833.8,211.9 L833.7,213.4 L833.7,214.9 L833.7,216.4 L833.7,217.9 L833.7,219.4 L833.7,220.9 L833.6,222.4 L833.6,223.9 L833.6,225.4 L833.6,226.9 L833.6,228.4 L833.6,229.9 L833.5,231.4 L833.5,232.9 L833.5,234.4 L833.5,235.9 L833.5,237.4 L833.4,238.9 L833.4,240.4 L833.4,241.9 L833.4,243.4 L833.4,244.9 L833.4,246.4 L833.3,247.9 L833.3,249.4 L833.3,250.9 L833.3,252.4 L833.3,253.9 L833.2,255.4 L833.2,256.9 L833.2,258.4 L833.2,259.9 L833.1,261.4 L833.1,262.9 L833.1,264.4 L833.1,265.9 L833.0,267.4 L833.0,268.9 L833.0,270.4 L833.0,271.9 L832.9,273.4 L832.9,274.9 L832.9,276.4 L832.9,277.9 L832.9,279.4 L832.8,280.9 L832.8,282.4 L832.8,283.9 L832.8,285.4 L832.7,286.9 L832.7,288.4 L832.7,289.9 L832.7,291.4 L832.7,292.9 L832.7,294.4 L832.6,295.9 L832.6,297.4 L832.6,298.9 L832.6,300.4 L832.6,301.9 L832.6,303.4 L832.6,304.9 L832.5,306.4 L832.5,307.9 L832.5,309.4 L832.5,310.9 L832.5,312.4 L832.5,313.9 L832.5,315.4 L832.5,316.9 L832.4,318.4 L832.4,319.9 L832.4,321.4 L832.4,322.9 L832.4,324.4 L832.4,325.9 L832.4,327.4 L832.4,328.9 L832.4,330.4 L832.3,331.9 L832.3,333.4 L832.3,334.9 L832.3,336.4 L832.3,337.9 L832.3,339.4 L832.3,340.9 L832.3,342.4 L832.3,343.9 L832.3,345.4 L832.3,346.9 L832.3,348.4 L832.2,349.9 L832.2,351.4 L832.2,352.9 L832.2,354.4 L832.2,355.9 L832.2,357.4 L832.2,358.9 L832.2,360.4 L832.2,361.9 L832.2,363.4 L832.2,364.9 L832.2,366.4 L832.2,367.9 L832.2,369.4 L832.2,370.9 L832.2,372.4 L832.2,373.9 L832.2,375.4 L832.2,376.9 L832.2,378.4 L832.2,379.9 L832.2,381.5 L832.2,383.0 L832.2,384.5 L832.2,386.0 L832.2,387.5 L832.2,389.0 L832.2,390.5 L832.2,392.0 L832.3,393.5 L832.3,395.0 L832.3,396.5 L832.3,398.0 L832.3,399.5 L832.3,401.0 L832.3,402.5 L832.3,404.0 L832.3,405.5 L832.3,407.0 L832.3,408.5 L832.3,410.0 L832.3,411.5 L832.3,413.0 L832.4,414.5 L832.4,416.0 L832.4,417.5 L832.4,419.0 L832.4,420.5 L832.4,422.0 L832.4,423.5 L832.4,425.0 L832.4,426.5 L832.4,428.0 L832.4,429.5 L832.5,431.0 L832.5,432.5 L832.5,434.0 L832.5,435.5 L832.5,437.0 L832.5,438.5 L832.5,440.0 L832.5,441.5 L832.5,443.0 L832.5,444.5 L832.5,446.0 L832.5,447.5 L832.6,449.0 L832.6,450.5 L832.6,452.0 L832.6,453.5 L832.6,455.0 L832.6,456.5 L832.6,458.0 L832.6,459.5 L832.7,461.0 L832.7,462.5 L832.7,464.0 L832.7,465.5 L832.7,467.0 L832.7,468.5 L832.7,470.0 L832.8,471.5 L832.8,473.0 L832.8,474.5 L832.8,476.0 L832.8,477.5 L832.8,479.0 L832.8,480.5 L832.8,482.0 L832.8,483.5 L832.9,485.0 L832.9,486.5 L832.9,488.0 L832.9,489.5 L832.9,491.0 L832.9,492.5 L832.9,494.0 L832.9,495.5 L832.9,497.0 L832.9,498.5 L832.9,500.0 L832.9,501.5 L832.9,503.0 L832.9,504.5 L832.9,506.0 L832.9,507.5 L832.9,509.0 L832.9,510.5 L832.9,512.0 L832.9,513.5 L832.9,515.0 L832.8,516.5 L832.8,518.0 L832.8,519.5 L832.8,521.0 L832.8,522.5 L832.8,524.0 L832.8,525.5 L832.8,527.0 L832.8,528.5 L832.7,530.0 L832.7,531.5 L832.7,533.0 L832.7,534.5 L832.7,536.0 L832.7,537.5 L832.7,539.0 L832.6,540.5 L832.6,542.0 L832.6,543.5 L832.6,545.0 L832.6,546.5 L832.6,548.0 L832.6,549.5 L832.5,551.0 L832.5,552.5 L832.5,554.0 L832.5,555.5 L832.5,557.0 L832.5,558.5 L832.5,560.0 L832.4,561.5 L832.4,563.0 L832.4,564.5 L832.4,566.0 L832.4,567.5 L832.3,569.0 L832.3,570.5 L832.3,572.0 L832.3,573.5 L832.3,575.0 L832.3,576.5 L832.2,578.0 L832.2,579.5 L832.2,581.0 L832.2,582.5 L832.2,584.0 L832.1,585.5 L832.1,587.0 L832.1,588.5 L832.1,590.0 L832.1,591.5 L832.1,593.0 L832.0,594.5 L832.0,596.0 L832.0,597.5 L832.0,599.0 L832.0,600.5 L832.0,602.0 L832.0,603.5 L832.0,605.0 L832.0,606.5 L831.9,608.0 L831.9,609.5 L831.9,611.0 L831.9,612.5 L831.9,614.0 L831.9,615.5 L831.9,617.0 L831.9,618.5 L831.9,620.0 L831.9,621.5 L831.9,623.0 L831.9,624.5 L831.9,626.0 L831.8,627.5 L831.8,629.0 L831.8,630.5 L831.8,632.0 L831.8,633.5 L831.8,635.0 L831.8,636.5 L831.8,638.0 L831.8,639.5 L831.8,641.0 L831.8,642.5 L831.8,644.0 L831.8,645.5 L831.8,647.0 L831.8,648.5 L831.8,650.0 L831.8,651.5 L831.8,653.0 L831.8,654.5 L831.7,656.0 L831.7,657.5 L831.7,659.0 L831.7,660.5 L831.7,662.0 L831.7,663.5 L831.7,665.0 L831.7,666.5 L831.7,668.0 L831.7,669.5 L831.7,671.0 L831.7,672.5 L831.7,674.0 L831.7,675.5 L831.7,676.0"/>
</g>
<path fill="none" stroke="#000" stroke-width="5.3" d="M148.64,60.3V845.6"/>
<path fill="none" stroke="#000" stroke-width="5.5" d="M146.1,842.9H977"/>
<text class="t" font-size="40" x="59.78" y="78.3" textLength="62.83" lengthAdjust="spacingAndGlyphs">130</text>
<text class="t" font-size="40" x="59.58" y="132.3" textLength="62.72" lengthAdjust="spacingAndGlyphs">120</text>
<text class="t" font-size="40" x="59.47" y="188.6" textLength="62.29" lengthAdjust="spacingAndGlyphs">110</text>
<text class="t" font-size="40" x="59.61" y="239.8" textLength="62.09" lengthAdjust="spacingAndGlyphs">100</text>
<text class="t" font-size="40" x="79.05" y="299.4" textLength="43.41" lengthAdjust="spacingAndGlyphs">90</text>
<text class="t" font-size="40" x="80.05" y="355.5" textLength="42.28" lengthAdjust="spacingAndGlyphs">80</text>
<text class="t" font-size="40" x="79.68" y="412.7" textLength="42.76" lengthAdjust="spacingAndGlyphs">70</text>
<text class="t" font-size="40" x="79.26" y="468.0" textLength="43.20" lengthAdjust="spacingAndGlyphs">60</text>
<text class="t" font-size="40" x="80.66" y="524.6" textLength="41.75" lengthAdjust="spacingAndGlyphs">50</text>
<text class="t" font-size="40" x="81.03" y="578.1" textLength="43.02" lengthAdjust="spacingAndGlyphs">40</text>
<text class="t" font-size="40" x="81.44" y="635.3" textLength="42.59" lengthAdjust="spacingAndGlyphs">30</text>
<text class="t" font-size="40" x="80.46" y="693.7" textLength="43.20" lengthAdjust="spacingAndGlyphs">20</text>
<text class="t" font-size="40" x="79.46" y="744.8" textLength="43.61" lengthAdjust="spacingAndGlyphs">10</text>
<text class="t" font-size="40" x="97.49" y="802.0" textLength="20.25" lengthAdjust="spacingAndGlyphs">0</text>
<text class="t" font-size="40" x="65.38" y="854.8" textLength="53.17" lengthAdjust="spacingAndGlyphs">-10</text>
<text class="t" font-size="40" x="131.22" y="904.8" textLength="42.72" lengthAdjust="spacingAndGlyphs">10</text>
<text class="t" font-size="40" x="328.28" y="905.0" textLength="62.83" lengthAdjust="spacingAndGlyphs">100</text>
<text class="t" font-size="40" x="521.87" y="904.7" textLength="83.96" lengthAdjust="spacingAndGlyphs">1000</text>
<text class="t" font-size="40" x="722.29" y="904.9" textLength="60.44" lengthAdjust="spacingAndGlyphs">10k</text>
<text class="t" font-size="40" x="922.97" y="901.5" textLength="81.69" lengthAdjust="spacingAndGlyphs">100k</text>
<text class="t b" font-size="31" x="666.47" y="110.8" textLength="170.75" lengthAdjust="spacingAndGlyphs">(estimated)</text>
<text class="t b" font-size="31" x="565.55" y="209.9" textLength="132.82" lengthAdjust="spacingAndGlyphs">100 phon</text>
<text class="t b" font-size="31" x="576.15" y="324.4" textLength="32.60" lengthAdjust="spacingAndGlyphs">80</text>
<text class="t b" font-size="31" x="576.92" y="431.5" textLength="33.86" lengthAdjust="spacingAndGlyphs">60</text>
<text class="t b" font-size="31" x="577.90" y="547.5" textLength="32.86" lengthAdjust="spacingAndGlyphs">40</text>
<text class="t b" font-size="31" x="574.23" y="661.3" textLength="33.44" lengthAdjust="spacingAndGlyphs">20</text>
<text class="t b" font-size="31" x="522.19" y="759.5" textLength="163.09" lengthAdjust="spacingAndGlyphs">(threshold)</text>
<text class="t b" font-size="31" x="80.64" y="952.5" textLength="859.86" lengthAdjust="spacingAndGlyphs">Equal-loudness contours (red) (from ISO 226:2003 revision)</text>
<text class="t b" font-size="31" x="174.31" y="992.2" textLength="711.07" lengthAdjust="spacingAndGlyphs">Original ISO standard shown (blue) for 40-phons</text>
<text class="t b" font-size="31" transform="translate(47.9,711.81) rotate(-90)" textLength="470.84" lengthAdjust="spacingAndGlyphs">Sound Pressure Level (dB SPL)</text>
</svg></body></html>
